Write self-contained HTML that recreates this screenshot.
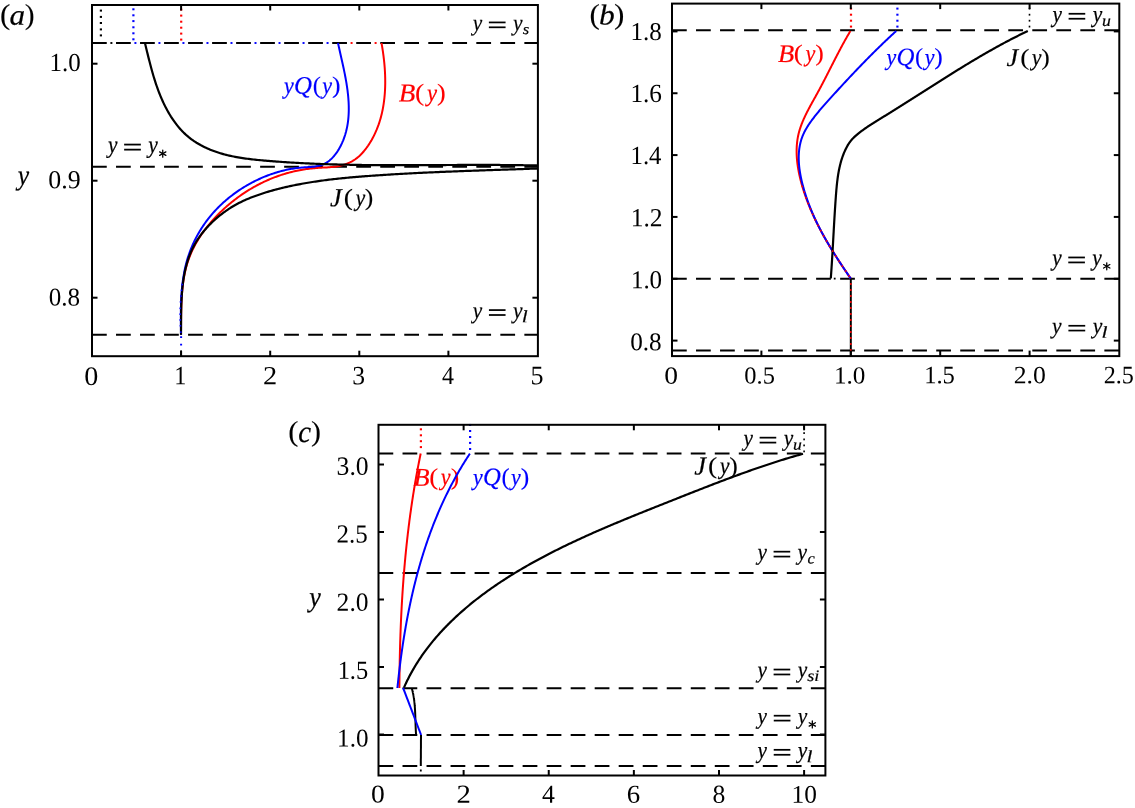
<!DOCTYPE html>
<html><head><meta charset="utf-8"><title>Figure</title><style>
html,body{margin:0;padding:0;background:#fff;overflow:hidden;}
svg{display:block;}
</style></head><body>
<svg width="1135" height="808" viewBox="0 0 1135 808">
<g style="will-change:transform">
<g id="L0" transform="matrix(0.98918,0,0,1.00375,0.989,-1.362)"><text transform="translate(84.198,384.800) rotate(0.05) scale(1.0600,1)" font-family="Liberation Serif" font-size="26.80" fill="#000">0</text></g>
<g id="L1" transform="matrix(0.85175,0,0,0.98390,27.048,5.715)"><text transform="translate(172.872,384.800) rotate(0.05) scale(1.0600,1)" font-family="Liberation Serif" font-size="26.80" fill="#000">1</text></g>
<g id="L2" transform="matrix(0.99825,0,0,0.97757,0.809,7.958)"><text transform="translate(262.540,384.800) rotate(0.05) scale(1.0600,1)" font-family="Liberation Serif" font-size="26.80" fill="#000">2</text></g>
<g id="L3" transform="matrix(0.90170,0,0,0.98201,35.535,6.481)"><text transform="translate(351.356,384.800) rotate(0.05) scale(1.0600,1)" font-family="Liberation Serif" font-size="26.80" fill="#000">3</text></g>
<g id="L4" transform="matrix(0.84304,0,0,0.97104,70.622,10.258)"><text transform="translate(440.527,384.800) rotate(0.05) scale(1.0600,1)" font-family="Liberation Serif" font-size="26.80" fill="#000">4</text></g>
<g id="L5" transform="matrix(0.91670,0,0,0.99180,45.160,2.711)"><text transform="translate(529.414,384.800) rotate(0.05) scale(1.0600,1)" font-family="Liberation Serif" font-size="26.80" fill="#000">5</text></g>
<g id="L6" transform="matrix(0.98492,0,0,0.98166,1.011,0.494)"><text transform="translate(49.178,71.800) rotate(0.05) scale(0.9550,1)" font-family="Liberation Serif" font-size="26.50" fill="#000">1.0</text></g>
<g id="L7" transform="matrix(1.02242,0,0,0.97902,-1.988,3.494)"><text transform="translate(49.178,188.800) rotate(0.05) scale(0.9550,1)" font-family="Liberation Serif" font-size="26.50" fill="#000">0.9</text></g>
<g id="L8" transform="matrix(0.99199,0,0,0.96787,-0.080,9.566)"><text transform="translate(49.178,305.800) rotate(0.05) scale(0.9550,1)" font-family="Liberation Serif" font-size="26.50" fill="#000">0.8</text></g>
<g id="L9" transform="matrix(0.98679,0,0,0.99802,0.314,0.062)"><text transform="translate(-0.312,23.880) rotate(0.05) scale(1.0944,1)" font-family="Liberation Serif" font-size="28.67" fill="#000000" stroke="#000000" stroke-width="0.1">(</text><text transform="translate(9.251,24.808) rotate(0.05) scale(1.0844,1)" font-family="Liberation Serif" font-size="29.17" fill="#000000" stroke="#000000" stroke-width="0.2" font-style="italic">a</text><text transform="translate(24.700,23.880) rotate(0.05) scale(1.0465,1)" font-family="Liberation Serif" font-size="28.67" fill="#000000" stroke="#000000" stroke-width="0.1">)</text></g>
<g id="L10" transform="matrix(0.97663,0,0,0.97172,0.560,5.228)"><text transform="translate(17.529,184.475) rotate(0.05) scale(0.9058,1)" font-family="Liberation Serif" font-size="28.96" fill="#000000" stroke="#000000" stroke-width="0.2"><tspan font-style="italic">y</tspan></text></g>
<g id="L11" transform="matrix(0.99678,0,0,0.98515,0.998,1.075)"><text transform="translate(283.876,93.701) rotate(0.05) scale(0.9130,1)" font-family="Liberation Serif" font-size="24.18" fill="#0000ff" stroke="#0000ff" stroke-width="0.2" font-style="italic">y</text><text transform="translate(294.029,93.741) rotate(0.05) scale(0.9825,1)" font-family="Liberation Serif" font-size="25.37" fill="#0000ff" stroke="#0000ff" stroke-width="0.2" font-style="italic">Q</text><text transform="translate(312.688,93.413) rotate(0.05) scale(1.0200,1)" font-family="Liberation Serif" font-size="24.22" fill="#0000ff" stroke="#0000ff" stroke-width="0.1">(</text><text transform="translate(322.276,93.701) rotate(0.05) scale(0.9130,1)" font-family="Liberation Serif" font-size="24.18" fill="#0000ff" stroke="#0000ff" stroke-width="0.2" font-style="italic">y</text><text transform="translate(332.027,93.413) rotate(0.05) scale(1.0639,1)" font-family="Liberation Serif" font-size="24.22" fill="#0000ff" stroke="#0000ff" stroke-width="0.1">)</text></g>
<g id="L12" transform="matrix(0.99801,0,0,0.98985,0.611,0.798)"><text transform="translate(399.029,101.800) rotate(0.05) scale(1.0308,1)" font-family="Liberation Serif" font-size="26.26" fill="#ff0000" stroke="#ff0000" stroke-width="0.2" font-style="italic">B</text><text transform="translate(415.247,100.690) rotate(0.05) scale(1.1442,1)" font-family="Liberation Serif" font-size="24.33" fill="#ff0000" stroke="#ff0000" stroke-width="0.1">(</text><text transform="translate(427.125,101.141) rotate(0.05) scale(0.9084,1)" font-family="Liberation Serif" font-size="24.93" fill="#ff0000" stroke="#ff0000" stroke-width="0.2" font-style="italic">y</text><text transform="translate(437.315,100.690) rotate(0.05) scale(1.0748,1)" font-family="Liberation Serif" font-size="24.33" fill="#ff0000" stroke="#ff0000" stroke-width="0.1">)</text></g>
<g id="L13" transform="matrix(0.99306,0,0,0.98555,2.476,2.787)"><text transform="translate(329.803,206.535) rotate(0.05) scale(0.9976,1)" font-family="Liberation Serif" font-size="26.52" fill="#000000" stroke="#000000" stroke-width="0.2" font-style="italic">J</text><text transform="translate(343.747,205.460) rotate(0.05) scale(1.1601,1)" font-family="Liberation Serif" font-size="24.00" fill="#000000" stroke="#000000" stroke-width="0.1">(</text><text transform="translate(355.476,205.841) rotate(0.05) scale(0.8857,1)" font-family="Liberation Serif" font-size="24.93" fill="#000000" stroke="#000000" stroke-width="0.2" font-style="italic">y</text><text transform="translate(364.927,205.460) rotate(0.05) scale(1.0737,1)" font-family="Liberation Serif" font-size="24.00" fill="#000000" stroke="#000000" stroke-width="0.1">)</text></g>
<g id="L14" transform="matrix(1.00008,0,0,0.95664,0.028,1.286)"><text transform="translate(472.612,30.437) rotate(0.05) scale(0.8710,1)" font-family="Liberation Serif" font-size="24.48" fill="#000" stroke="#000" stroke-width="0.2" font-style="italic">y</text>
<rect x="488.80" y="21.20" width="16.7" height="1.80" fill="#000"/>
<rect x="488.80" y="26.30" width="16.7" height="1.80" fill="#000"/>
<text transform="translate(512.928,30.437) rotate(0.05) scale(0.8787,1)" font-family="Liberation Serif" font-size="24.48" fill="#000" stroke="#000" stroke-width="0.2" font-style="italic">y</text>
<text transform="translate(522.652,34.246) rotate(0.05) scale(1.0717,1)" font-family="Liberation Serif" font-size="15.42" fill="#000" stroke="#000" stroke-width="0.2" font-style="italic">s</text></g>
<g id="L15" transform="matrix(1.00016,0,0,0.99358,0.117,1.398)"><text transform="translate(107.812,152.437) rotate(0.05) scale(0.8710,1)" font-family="Liberation Serif" font-size="24.48" fill="#000" stroke="#000" stroke-width="0.2" font-style="italic">y</text>
<rect x="124.00" y="143.20" width="16.7" height="1.80" fill="#000"/>
<rect x="124.00" y="148.30" width="16.7" height="1.80" fill="#000"/>
<text transform="translate(148.128,152.437) rotate(0.05) scale(0.8787,1)" font-family="Liberation Serif" font-size="24.48" fill="#000" stroke="#000" stroke-width="0.2" font-style="italic">y</text>
<line x1="162.60" y1="149.60" x2="162.60" y2="156.80" stroke="#000" stroke-width="1.3" stroke-linecap="round"/><line x1="165.72" y1="151.40" x2="159.48" y2="155.00" stroke="#000" stroke-width="1.3" stroke-linecap="round"/><line x1="165.72" y1="155.00" x2="159.48" y2="151.40" stroke="#000" stroke-width="1.3" stroke-linecap="round"/></g>
<g id="L16" transform="matrix(0.99561,0,0,0.96505,2.179,11.110)"><text transform="translate(472.712,318.137) rotate(0.05) scale(0.8710,1)" font-family="Liberation Serif" font-size="24.48" fill="#000" stroke="#000" stroke-width="0.2" font-style="italic">y</text>
<rect x="488.90" y="308.90" width="16.7" height="1.80" fill="#000"/>
<rect x="488.90" y="314.00" width="16.7" height="1.80" fill="#000"/>
<text transform="translate(513.028,318.137) rotate(0.05) scale(0.8787,1)" font-family="Liberation Serif" font-size="24.48" fill="#000" stroke="#000" stroke-width="0.2" font-style="italic">y</text>
<text transform="translate(521.817,322.500) rotate(0.05) scale(1.2061,1)" font-family="Liberation Serif" font-size="17.83" fill="#000" stroke="#000" stroke-width="0.2" font-style="italic">l</text></g>
<g id="L17" transform="matrix(0.96820,0,0,0.92706,21.356,27.851)"><text transform="translate(663.898,383.800) rotate(0.05) scale(1.0600,1)" font-family="Liberation Serif" font-size="26.80" fill="#000">0</text></g>
<g id="L18" transform="matrix(0.96462,0,0,0.92567,26.122,28.268)"><text transform="translate(744.583,383.800) rotate(0.05) scale(0.9550,1)" font-family="Liberation Serif" font-size="26.50" fill="#000">0.5</text></g>
<g id="L19" transform="matrix(0.99417,0,0,0.93019,5.514,26.588)"><text transform="translate(833.350,383.800) rotate(0.05) scale(0.9550,1)" font-family="Liberation Serif" font-size="26.50" fill="#000">1.0</text></g>
<g id="L20" transform="matrix(0.97274,0,0,0.95036,26.557,18.519)"><text transform="translate(922.750,383.800) rotate(0.05) scale(0.9550,1)" font-family="Liberation Serif" font-size="26.50" fill="#000">1.5</text></g>
<g id="L21" transform="matrix(1.01462,0,0,0.93978,-13.785,22.580)"><text transform="translate(1012.720,383.800) rotate(0.05) scale(0.9550,1)" font-family="Liberation Serif" font-size="26.50" fill="#000">2.0</text></g>
<g id="L22" transform="matrix(0.95291,0,0,0.94646,53.554,20.051)"><text transform="translate(1102.120,383.800) rotate(0.05) scale(0.9550,1)" font-family="Liberation Serif" font-size="26.50" fill="#000">2.5</text></g>
<g id="L23" transform="matrix(0.99617,0,0,0.96738,2.206,12.194)"><text transform="translate(630.378,349.500) rotate(0.05) scale(0.9550,1)" font-family="Liberation Serif" font-size="26.50" fill="#000">0.8</text></g>
<g id="L24" transform="matrix(0.98731,0,0,0.97537,8.512,7.780)"><text transform="translate(630.378,287.660) rotate(0.05) scale(0.9550,1)" font-family="Liberation Serif" font-size="26.50" fill="#000">1.0</text></g>
<g id="L25" transform="matrix(1.00748,0,0,0.98804,-4.822,3.045)"><text transform="translate(630.758,225.820) rotate(0.05) scale(0.9550,1)" font-family="Liberation Serif" font-size="26.50" fill="#000">1.2</text></g>
<g id="L26" transform="matrix(0.97982,0,0,0.98950,13.460,1.709)"><text transform="translate(629.745,163.980) rotate(0.05) scale(0.9550,1)" font-family="Liberation Serif" font-size="26.50" fill="#000">1.4</text></g>
<g id="L27" transform="matrix(0.99681,0,0,0.99065,2.329,0.762)"><text transform="translate(630.125,102.140) rotate(0.05) scale(0.9550,1)" font-family="Liberation Serif" font-size="26.50" fill="#000">1.6</text></g>
<g id="L28" transform="matrix(0.98997,0,0,0.97246,6.345,0.800)"><text transform="translate(630.378,40.300) rotate(0.05) scale(0.9550,1)" font-family="Liberation Serif" font-size="26.50" fill="#000">1.8</text></g>
<g id="L29" transform="matrix(0.98858,0,0,0.99326,6.966,0.116)"><text transform="translate(589.388,23.857) rotate(0.05) scale(1.0902,1)" font-family="Liberation Serif" font-size="28.78" fill="#000000" stroke="#000000" stroke-width="0.1">(</text><text transform="translate(598.826,24.510) rotate(0.05) scale(1.0986,1)" font-family="Liberation Serif" font-size="29.00" fill="#000000" stroke="#000000" stroke-width="0.2" font-style="italic">b</text><text transform="translate(613.954,23.857) rotate(0.05) scale(1.0959,1)" font-family="Liberation Serif" font-size="28.78" fill="#000000" stroke="#000000" stroke-width="0.1">)</text></g>
<g id="L30" transform="matrix(0.99176,0,0,0.98196,6.555,0.847)"><text transform="translate(777.733,62.183) rotate(0.05) scale(1.0356,1)" font-family="Liberation Serif" font-size="25.79" fill="#ff0000" stroke="#ff0000" stroke-width="0.2" font-style="italic">B</text><text transform="translate(793.737,61.093) rotate(0.05) scale(1.1495,1)" font-family="Liberation Serif" font-size="23.90" fill="#ff0000" stroke="#ff0000" stroke-width="0.1">(</text><text transform="translate(805.458,61.536) rotate(0.05) scale(0.9126,1)" font-family="Liberation Serif" font-size="24.48" fill="#ff0000" stroke="#ff0000" stroke-width="0.2" font-style="italic">y</text><text transform="translate(815.515,61.093) rotate(0.05) scale(1.0798,1)" font-family="Liberation Serif" font-size="23.90" fill="#ff0000" stroke="#ff0000" stroke-width="0.1">)</text></g>
<g id="L31" transform="matrix(0.99379,0,0,0.98264,5.614,0.910)"><text transform="translate(886.376,65.101) rotate(0.05) scale(0.9130,1)" font-family="Liberation Serif" font-size="24.18" fill="#0000ff" stroke="#0000ff" stroke-width="0.2" font-style="italic">y</text><text transform="translate(896.529,65.141) rotate(0.05) scale(0.9825,1)" font-family="Liberation Serif" font-size="25.37" fill="#0000ff" stroke="#0000ff" stroke-width="0.2" font-style="italic">Q</text><text transform="translate(915.188,64.813) rotate(0.05) scale(1.0200,1)" font-family="Liberation Serif" font-size="24.22" fill="#0000ff" stroke="#0000ff" stroke-width="0.1">(</text><text transform="translate(924.776,65.101) rotate(0.05) scale(0.9130,1)" font-family="Liberation Serif" font-size="24.18" fill="#0000ff" stroke="#0000ff" stroke-width="0.2" font-style="italic">y</text><text transform="translate(934.527,64.813) rotate(0.05) scale(1.0639,1)" font-family="Liberation Serif" font-size="24.22" fill="#0000ff" stroke="#0000ff" stroke-width="0.1">)</text></g>
<g id="L32" transform="matrix(0.99364,0,0,0.98400,6.530,0.797)"><text transform="translate(1006.305,66.219) rotate(0.05) scale(1.0110,1)" font-family="Liberation Serif" font-size="26.04" fill="#000000" stroke="#000000" stroke-width="0.2" font-style="italic">J</text><text transform="translate(1020.183,65.163) rotate(0.05) scale(1.1757,1)" font-family="Liberation Serif" font-size="23.57" fill="#000000" stroke="#000000" stroke-width="0.1">(</text><text transform="translate(1031.857,65.537) rotate(0.05) scale(0.8976,1)" font-family="Liberation Serif" font-size="24.48" fill="#000000" stroke="#000000" stroke-width="0.2" font-style="italic">y</text><text transform="translate(1041.262,65.163) rotate(0.05) scale(1.0881,1)" font-family="Liberation Serif" font-size="23.57" fill="#000000" stroke="#000000" stroke-width="0.1">)</text></g>
<g id="L33" transform="matrix(0.99593,0,0,0.97315,4.358,0.732)"><text transform="translate(1052.412,21.737) rotate(0.05) scale(0.8710,1)" font-family="Liberation Serif" font-size="24.48" fill="#000" stroke="#000" stroke-width="0.2" font-style="italic">y</text>
<rect x="1068.60" y="12.50" width="16.7" height="1.80" fill="#000"/>
<rect x="1068.60" y="17.60" width="16.7" height="1.80" fill="#000"/>
<text transform="translate(1092.728,21.737) rotate(0.05) scale(0.8787,1)" font-family="Liberation Serif" font-size="24.48" fill="#000" stroke="#000" stroke-width="0.2" font-style="italic">y</text>
<text transform="translate(1102.208,25.934) rotate(0.05) scale(1.0745,1)" font-family="Liberation Serif" font-size="16.60" fill="#000" stroke="#000" stroke-width="0.2" font-style="italic">u</text></g>
<g id="L34" transform="matrix(0.99686,0,0,0.97310,3.422,7.185)"><text transform="translate(1052.012,265.537) rotate(0.05) scale(0.8710,1)" font-family="Liberation Serif" font-size="24.48" fill="#000" stroke="#000" stroke-width="0.2" font-style="italic">y</text>
<rect x="1068.20" y="256.30" width="16.7" height="1.80" fill="#000"/>
<rect x="1068.20" y="261.40" width="16.7" height="1.80" fill="#000"/>
<text transform="translate(1092.328,265.537) rotate(0.05) scale(0.8787,1)" font-family="Liberation Serif" font-size="24.48" fill="#000" stroke="#000" stroke-width="0.2" font-style="italic">y</text>
<line x1="1106.80" y1="262.70" x2="1106.80" y2="269.90" stroke="#000" stroke-width="1.3" stroke-linecap="round"/><line x1="1109.92" y1="264.50" x2="1103.68" y2="268.10" stroke="#000" stroke-width="1.3" stroke-linecap="round"/><line x1="1109.92" y1="268.10" x2="1103.68" y2="264.50" stroke="#000" stroke-width="1.3" stroke-linecap="round"/></g>
<g id="L35" transform="matrix(1.00684,0,0,0.94169,-7.102,19.241)"><text transform="translate(1052.012,333.837) rotate(0.05) scale(0.8710,1)" font-family="Liberation Serif" font-size="24.48" fill="#000" stroke="#000" stroke-width="0.2" font-style="italic">y</text>
<rect x="1068.20" y="324.60" width="16.7" height="1.80" fill="#000"/>
<rect x="1068.20" y="329.70" width="16.7" height="1.80" fill="#000"/>
<text transform="translate(1092.328,333.837) rotate(0.05) scale(0.8787,1)" font-family="Liberation Serif" font-size="24.48" fill="#000" stroke="#000" stroke-width="0.2" font-style="italic">y</text>
<text transform="translate(1101.117,338.200) rotate(0.05) scale(1.2061,1)" font-family="Liberation Serif" font-size="17.83" fill="#000" stroke="#000" stroke-width="0.2" font-style="italic">l</text></g>
<g id="L36" transform="matrix(0.96961,0,0,0.96135,10.983,30.836)"><text transform="translate(371.398,802.600) rotate(0.05) scale(1.0600,1)" font-family="Liberation Serif" font-size="26.80" fill="#000">0</text></g>
<g id="L37" transform="matrix(1.01203,0,0,0.97341,-5.695,21.379)"><text transform="translate(456.660,802.600) rotate(0.05) scale(1.0600,1)" font-family="Liberation Serif" font-size="26.80" fill="#000">2</text></g>
<g id="L38" transform="matrix(0.90672,0,0,0.97093,50.863,23.374)"><text transform="translate(541.567,802.600) rotate(0.05) scale(1.0600,1)" font-family="Liberation Serif" font-size="26.80" fill="#000">4</text></g>
<g id="L39" transform="matrix(0.94521,0,0,0.96537,34.422,28.016)"><text transform="translate(626.545,802.600) rotate(0.05) scale(1.0600,1)" font-family="Liberation Serif" font-size="26.80" fill="#000">6</text></g>
<g id="L40" transform="matrix(0.90373,0,0,0.96366,69.131,29.297)"><text transform="translate(711.878,802.600) rotate(0.05) scale(1.0600,1)" font-family="Liberation Serif" font-size="26.80" fill="#000">8</text></g>
<g id="L41" transform="matrix(0.94499,0,0,0.95367,45.017,37.344)"><text transform="translate(790.030,802.600) rotate(0.05) scale(1.0000,1)" font-family="Liberation Serif" font-size="26.80" fill="#000">10</text></g>
<g id="L42" transform="matrix(0.99171,0,0,0.96652,2.926,25.215)"><text transform="translate(336.978,746.200) rotate(0.05) scale(0.9550,1)" font-family="Liberation Serif" font-size="26.50" fill="#000">1.0</text></g>
<g id="L43" transform="matrix(0.96546,0,0,0.97908,12.319,14.620)"><text transform="translate(336.978,678.400) rotate(0.05) scale(0.9550,1)" font-family="Liberation Serif" font-size="26.50" fill="#000">1.5</text></g>
<g id="L44" transform="matrix(1.00838,0,0,0.98892,-3.178,6.808)"><text transform="translate(336.978,610.600) rotate(0.05) scale(0.9550,1)" font-family="Liberation Serif" font-size="26.50" fill="#000">2.0</text></g>
<g id="L45" transform="matrix(0.98739,0,0,0.98393,3.880,8.341)"><text transform="translate(336.978,542.800) rotate(0.05) scale(0.9550,1)" font-family="Liberation Serif" font-size="26.50" fill="#000">2.5</text></g>
<g id="L46" transform="matrix(1.01393,0,0,0.99458,-5.064,2.316)"><text transform="translate(336.978,475.000) rotate(0.05) scale(0.9550,1)" font-family="Liberation Serif" font-size="26.50" fill="#000">3.0</text></g>
<g id="L47" transform="matrix(0.98411,0,0,0.99266,4.823,3.131)"><text transform="translate(288.106,440.957) rotate(0.05) scale(1.0765,1)" font-family="Liberation Serif" font-size="28.78" fill="#000000" stroke="#000000" stroke-width="0.1">(</text><text transform="translate(298.119,442.192) rotate(0.05) scale(0.9530,1)" font-family="Liberation Serif" font-size="30.83" fill="#000000" stroke="#000000" stroke-width="0.2" font-style="italic">c</text><text transform="translate(311.088,440.957) rotate(0.05) scale(1.0558,1)" font-family="Liberation Serif" font-size="28.78" fill="#000000" stroke="#000000" stroke-width="0.1">)</text></g>
<g id="L48" transform="matrix(0.98116,0,0,0.95688,5.886,25.980)"><text transform="translate(309.161,606.514) rotate(0.05) scale(0.8957,1)" font-family="Liberation Serif" font-size="29.70" fill="#000000" stroke="#000000" stroke-width="0.2"><tspan font-style="italic">y</tspan></text></g>
<g id="L49" transform="matrix(0.99115,0,0,0.98991,3.884,4.674)"><text transform="translate(413.335,485.962) rotate(0.05) scale(1.0241,1)" font-family="Liberation Serif" font-size="25.91" fill="#ff0000" stroke="#ff0000" stroke-width="0.2" font-style="italic">B</text><text transform="translate(429.232,484.867) rotate(0.05) scale(1.1367,1)" font-family="Liberation Serif" font-size="24.01" fill="#ff0000" stroke="#ff0000" stroke-width="0.1">(</text><text transform="translate(440.875,485.312) rotate(0.05) scale(0.9024,1)" font-family="Liberation Serif" font-size="24.59" fill="#ff0000" stroke="#ff0000" stroke-width="0.2" font-style="italic">y</text><text transform="translate(450.865,484.867) rotate(0.05) scale(1.0678,1)" font-family="Liberation Serif" font-size="24.01" fill="#ff0000" stroke="#ff0000" stroke-width="0.1">)</text></g>
<g id="L50" transform="matrix(0.99629,0,0,0.97953,1.901,9.688)"><text transform="translate(472.767,485.155) rotate(0.05) scale(0.9001,1)" font-family="Liberation Serif" font-size="24.40" fill="#0000ff" stroke="#0000ff" stroke-width="0.2" font-style="italic">y</text><text transform="translate(482.866,485.195) rotate(0.05) scale(0.9687,1)" font-family="Liberation Serif" font-size="25.59" fill="#0000ff" stroke="#0000ff" stroke-width="0.2" font-style="italic">Q</text><text transform="translate(501.428,484.864) rotate(0.05) scale(1.0056,1)" font-family="Liberation Serif" font-size="24.44" fill="#0000ff" stroke="#0000ff" stroke-width="0.1">(</text><text transform="translate(510.966,485.155) rotate(0.05) scale(0.9001,1)" font-family="Liberation Serif" font-size="24.40" fill="#0000ff" stroke="#0000ff" stroke-width="0.2" font-style="italic">y</text><text transform="translate(520.666,484.864) rotate(0.05) scale(1.0489,1)" font-family="Liberation Serif" font-size="24.44" fill="#0000ff" stroke="#0000ff" stroke-width="0.1">)</text></g>
<g id="L51" transform="matrix(0.99340,0,0,0.98802,4.709,5.559)"><text transform="translate(694.102,474.656) rotate(0.05) scale(1.0045,1)" font-family="Liberation Serif" font-size="26.40" fill="#000000" stroke="#000000" stroke-width="0.2" font-style="italic">J</text><text transform="translate(708.079,473.586) rotate(0.05) scale(1.1681,1)" font-family="Liberation Serif" font-size="23.89" fill="#000000" stroke="#000000" stroke-width="0.1">(</text><text transform="translate(719.836,473.965) rotate(0.05) scale(0.8918,1)" font-family="Liberation Serif" font-size="24.81" fill="#000000" stroke="#000000" stroke-width="0.2" font-style="italic">y</text><text transform="translate(729.309,473.586) rotate(0.05) scale(1.0811,1)" font-family="Liberation Serif" font-size="23.89" fill="#000000" stroke="#000000" stroke-width="0.1">)</text></g>
<g id="L52" transform="matrix(0.99559,0,0,0.96684,3.276,14.863)"><text transform="translate(743.512,445.637) rotate(0.05) scale(0.8710,1)" font-family="Liberation Serif" font-size="24.48" fill="#000" stroke="#000" stroke-width="0.2" font-style="italic">y</text>
<rect x="759.70" y="436.40" width="16.7" height="1.80" fill="#000"/>
<rect x="759.70" y="441.50" width="16.7" height="1.80" fill="#000"/>
<text transform="translate(783.828,445.637) rotate(0.05) scale(0.8787,1)" font-family="Liberation Serif" font-size="24.48" fill="#000" stroke="#000" stroke-width="0.2" font-style="italic">y</text>
<text transform="translate(793.308,449.834) rotate(0.05) scale(1.0745,1)" font-family="Liberation Serif" font-size="16.60" fill="#000" stroke="#000" stroke-width="0.2" font-style="italic">u</text></g>
<g id="L53" transform="matrix(0.99585,0,0,0.96143,3.196,21.441)"><text transform="translate(757.412,559.837) rotate(0.05) scale(0.8710,1)" font-family="Liberation Serif" font-size="24.48" fill="#000" stroke="#000" stroke-width="0.2" font-style="italic">y</text>
<rect x="773.60" y="550.60" width="16.7" height="1.80" fill="#000"/>
<rect x="773.60" y="555.70" width="16.7" height="1.80" fill="#000"/>
<text transform="translate(797.728,559.837) rotate(0.05) scale(0.8787,1)" font-family="Liberation Serif" font-size="24.48" fill="#000" stroke="#000" stroke-width="0.2" font-style="italic">y</text>
<text transform="translate(807.604,563.837) rotate(0.05) scale(1.0180,1)" font-family="Liberation Serif" font-size="16.25" fill="#000" stroke="#000" stroke-width="0.2" font-style="italic">c</text></g>
<g id="L54" transform="matrix(0.99578,0,0,0.96703,3.276,22.213)"><text transform="translate(757.412,677.737) rotate(0.05) scale(0.8710,1)" font-family="Liberation Serif" font-size="24.48" fill="#000" stroke="#000" stroke-width="0.2" font-style="italic">y</text>
<rect x="773.60" y="668.50" width="16.7" height="1.80" fill="#000"/>
<rect x="773.60" y="673.60" width="16.7" height="1.80" fill="#000"/>
<text transform="translate(797.728,677.737) rotate(0.05) scale(0.8787,1)" font-family="Liberation Serif" font-size="24.48" fill="#000" stroke="#000" stroke-width="0.2" font-style="italic">y</text>
<text transform="translate(807.427,681.334) rotate(0.05) scale(1.1001,1)" font-family="Liberation Serif" font-size="16.57" fill="#000" stroke="#000" stroke-width="0.2" font-style="italic">si</text></g>
<g id="L55" transform="matrix(0.99907,0,0,0.95911,0.678,29.557)"><text transform="translate(757.612,723.737) rotate(0.05) scale(0.8710,1)" font-family="Liberation Serif" font-size="24.48" fill="#000" stroke="#000" stroke-width="0.2" font-style="italic">y</text>
<rect x="773.80" y="714.50" width="16.7" height="1.80" fill="#000"/>
<rect x="773.80" y="719.60" width="16.7" height="1.80" fill="#000"/>
<text transform="translate(797.928,723.737) rotate(0.05) scale(0.8787,1)" font-family="Liberation Serif" font-size="24.48" fill="#000" stroke="#000" stroke-width="0.2" font-style="italic">y</text>
<line x1="812.40" y1="720.90" x2="812.40" y2="728.10" stroke="#000" stroke-width="1.3" stroke-linecap="round"/><line x1="815.52" y1="722.70" x2="809.28" y2="726.30" stroke="#000" stroke-width="1.3" stroke-linecap="round"/><line x1="815.52" y1="726.30" x2="809.28" y2="722.70" stroke="#000" stroke-width="1.3" stroke-linecap="round"/></g>
<g id="L56" transform="matrix(0.99668,0,0,0.97186,2.493,21.315)"><text transform="translate(757.612,757.937) rotate(0.05) scale(0.8710,1)" font-family="Liberation Serif" font-size="24.48" fill="#000" stroke="#000" stroke-width="0.2" font-style="italic">y</text>
<rect x="773.80" y="748.70" width="16.7" height="1.80" fill="#000"/>
<rect x="773.80" y="753.80" width="16.7" height="1.80" fill="#000"/>
<text transform="translate(797.928,757.937) rotate(0.05) scale(0.8787,1)" font-family="Liberation Serif" font-size="24.48" fill="#000" stroke="#000" stroke-width="0.2" font-style="italic">y</text>
<text transform="translate(806.717,762.300) rotate(0.05) scale(1.2061,1)" font-family="Liberation Serif" font-size="17.83" fill="#000" stroke="#000" stroke-width="0.2" font-style="italic">l</text></g>
<line x1="92.0" y1="43.00" x2="537.9" y2="43.00" stroke="#000" stroke-width="2.0" stroke-dasharray="14.75 9.27"/>
<line x1="92.0" y1="166.80" x2="537.9" y2="166.80" stroke="#000" stroke-width="2.0" stroke-dasharray="14.75 9.27"/>
<line x1="92.0" y1="334.70" x2="537.9" y2="334.70" stroke="#000" stroke-width="2.0" stroke-dasharray="14.75 9.27"/>
<rect x="110.39" y="42.05" width="2.0" height="1.9" fill="#000000"/>
<rect x="134.41" y="42.05" width="2.0" height="1.9" fill="#0000ff"/>
<rect x="158.43" y="42.05" width="2.0" height="1.9" fill="#0000ff"/>
<rect x="182.44" y="42.05" width="2.0" height="1.9" fill="#0000ff"/>
<rect x="206.47" y="42.05" width="2.0" height="1.9" fill="#0000ff"/>
<rect x="230.49" y="42.05" width="2.0" height="1.9" fill="#0000ff"/>
<rect x="254.50" y="42.05" width="2.0" height="1.9" fill="#0000ff"/>
<rect x="278.52" y="42.05" width="2.0" height="1.9" fill="#0000ff"/>
<rect x="302.55" y="42.05" width="2.0" height="1.9" fill="#0000ff"/>
<rect x="326.56" y="42.05" width="2.0" height="1.9" fill="#0000ff"/>
<rect x="350.58" y="42.05" width="2.0" height="1.9" fill="#ff0000"/>
<rect x="374.60" y="42.05" width="2.0" height="1.9" fill="#ff0000"/>
<path d="M181.00,334.70 L181.01,333.39 L181.02,332.07 L181.03,330.75 L181.04,329.42 L181.05,328.09 L181.06,326.75 L181.06,325.41 L181.07,324.06 L181.08,322.71 L181.08,321.36 L181.09,320.00 L181.10,318.64 L181.12,317.27 L181.13,315.91 L181.15,314.54 L181.17,313.17 L181.19,311.79 L181.22,310.42 L181.25,309.04 L181.29,307.66 L181.33,306.28 L181.38,304.90 L181.43,303.52 L181.49,302.13 L181.55,300.75 L181.62,299.37 L181.70,297.99 L181.78,296.61 L181.88,295.22 L181.98,293.84 L182.09,292.47 L182.21,291.09 L182.34,289.71 L182.48,288.34 L182.62,286.97 L182.78,285.60 L182.95,284.23 L183.13,282.87 L183.32,281.51 L183.53,280.15 L183.74,278.80 L183.97,277.45 L184.21,276.10 L184.47,274.76 L184.74,273.42 L185.02,272.09 L185.32,270.76 L185.63,269.44 L185.96,268.12 L186.30,266.81 L186.66,265.50 L187.04,264.21 L187.43,262.91 L187.84,261.63 L188.26,260.35 L188.71,259.08 L189.17,257.81 L189.65,256.55 L190.15,255.30 L190.66,254.06 L191.19,252.83 L191.74,251.60 L192.31,250.38 L192.89,249.16 L193.48,247.96 L194.09,246.76 L194.72,245.57 L195.36,244.38 L196.02,243.20 L196.69,242.03 L197.37,240.87 L198.07,239.72 L198.78,238.57 L199.51,237.43 L200.25,236.30 L201.00,235.17 L201.77,234.05 L202.54,232.94 L203.33,231.84 L204.13,230.74 L204.94,229.65 L205.77,228.57 L206.60,227.50 L207.45,226.43 L208.30,225.38 L209.17,224.33 L210.05,223.28 L210.93,222.25 L211.83,221.22 L212.73,220.20 L213.65,219.18 L214.57,218.18 L215.50,217.18 L216.44,216.19 L217.39,215.20 L218.34,214.23 L219.31,213.26 L220.28,212.30 L221.26,211.35 L222.25,210.41 L223.25,209.48 L224.25,208.55 L225.27,207.63 L226.29,206.72 L227.32,205.82 L228.35,204.93 L229.40,204.05 L230.45,203.17 L231.50,202.30 L232.57,201.45 L233.64,200.60 L234.72,199.76 L235.81,198.93 L236.90,198.11 L238.00,197.30 L239.11,196.50 L240.22,195.70 L241.34,194.92 L242.46,194.15 L243.60,193.38 L244.74,192.63 L245.88,191.89 L247.03,191.15 L248.19,190.43 L249.35,189.71 L250.52,189.01 L251.69,188.31 L252.87,187.63 L254.06,186.96 L255.25,186.29 L256.44,185.64 L257.64,185.00 L258.85,184.37 L260.06,183.75 L261.28,183.14 L262.50,182.54 L263.73,181.95 L264.96,181.37 L266.19,180.81 L267.43,180.25 L268.68,179.71 L269.93,179.18 L271.18,178.66 L272.44,178.15 L273.70,177.65 L274.97,177.16 L276.24,176.69 L277.51,176.23 L278.79,175.78 L280.07,175.34 L281.35,174.91 L282.64,174.49 L283.94,174.09 L285.23,173.70 L286.53,173.32 L287.83,172.96 L289.14,172.60 L290.44,172.26 L291.75,171.93 L293.07,171.62 L294.39,171.31 L295.71,171.02 L297.03,170.74 L298.36,170.47 L299.69,170.21 L301.02,169.97 L302.36,169.74 L303.70,169.51 L305.04,169.30 L306.39,169.11 L307.74,168.92 L309.09,168.74 L310.45,168.58 L311.81,168.43 L313.17,168.29 L314.53,168.16 L315.90,168.04 L317.28,167.93 L318.65,167.84 L320.03,167.75 L321.41,167.67 L322.79,167.60 L324.17,167.53 L325.55,167.45 L326.93,167.38 L328.31,167.29 L329.68,167.20 L331.05,167.09 L332.42,166.96 L333.77,166.82 L335.12,166.66 L336.46,166.47 L337.80,166.25 L339.12,166.00 L340.43,165.72 L341.73,165.40 L343.01,165.05 L344.28,164.65 L345.54,164.23 L346.78,163.76 L348.01,163.26 L349.22,162.72 L350.41,162.14 L351.58,161.53 L352.73,160.88 L353.86,160.19 L354.96,159.46 L356.05,158.69 L357.11,157.88 L358.15,157.03 L359.16,156.15 L360.15,155.23 L361.11,154.28 L362.06,153.29 L362.97,152.28 L363.87,151.24 L364.74,150.18 L365.59,149.10 L366.42,148.00 L367.23,146.88 L368.02,145.75 L368.78,144.61 L369.53,143.45 L370.25,142.29 L370.96,141.12 L371.65,139.94 L372.31,138.75 L372.96,137.55 L373.59,136.35 L374.20,135.13 L374.79,133.91 L375.36,132.68 L375.91,131.44 L376.45,130.20 L376.96,128.95 L377.46,127.69 L377.94,126.42 L378.41,125.15 L378.85,123.87 L379.28,122.59 L379.70,121.29 L380.09,120.00 L380.47,118.69 L380.84,117.39 L381.19,116.07 L381.52,114.76 L381.83,113.43 L382.13,112.11 L382.42,110.77 L382.69,109.44 L382.94,108.10 L383.19,106.75 L383.41,105.41 L383.62,104.06 L383.82,102.70 L384.00,101.34 L384.17,99.98 L384.33,98.62 L384.47,97.26 L384.60,95.89 L384.72,94.52 L384.83,93.15 L384.92,91.78 L385.00,90.41 L385.06,89.03 L385.12,87.65 L385.16,86.28 L385.19,84.90 L385.22,83.52 L385.22,82.14 L385.22,80.77 L385.21,79.39 L385.19,78.01 L385.15,76.64 L385.11,75.26 L385.06,73.88 L384.99,72.51 L384.92,71.14 L384.84,69.77 L384.75,68.40 L384.64,67.03 L384.53,65.67 L384.42,64.31 L384.29,62.95 L384.15,61.59 L384.01,60.24 L383.86,58.89 L383.70,57.54 L383.53,56.20 L383.36,54.86 L383.18,53.52 L382.99,52.19 L382.80,50.86 L382.60,49.54 L382.39,48.22 L382.18,46.91 L381.96,45.60 L381.73,44.30 L381.50,43.00" fill="none" stroke="#ff0000" stroke-width="2.0" stroke-linejoin="round" stroke-linecap="butt"/>
<path d="M181.00,334.70 L180.98,333.44 L180.96,332.17 L180.94,330.90 L180.92,329.63 L180.91,328.36 L180.89,327.08 L180.87,325.80 L180.86,324.52 L180.85,323.24 L180.84,321.96 L180.83,320.67 L180.82,319.39 L180.82,318.10 L180.82,316.81 L180.82,315.52 L180.83,314.23 L180.84,312.94 L180.85,311.65 L180.87,310.35 L180.89,309.06 L180.91,307.77 L180.94,306.47 L180.98,305.18 L181.02,303.88 L181.06,302.59 L181.11,301.29 L181.17,300.00 L181.23,298.70 L181.30,297.41 L181.38,296.12 L181.46,294.82 L181.55,293.53 L181.64,292.24 L181.74,290.95 L181.85,289.66 L181.97,288.37 L182.10,287.09 L182.23,285.80 L182.37,284.52 L182.53,283.24 L182.69,281.96 L182.85,280.68 L183.03,279.40 L183.22,278.13 L183.42,276.86 L183.63,275.59 L183.84,274.32 L184.07,273.06 L184.31,271.80 L184.56,270.54 L184.82,269.28 L185.09,268.03 L185.38,266.78 L185.67,265.53 L185.98,264.29 L186.30,263.05 L186.63,261.81 L186.98,260.58 L187.33,259.35 L187.70,258.13 L188.09,256.91 L188.48,255.69 L188.89,254.48 L189.32,253.27 L189.75,252.06 L190.20,250.87 L190.66,249.67 L191.13,248.48 L191.61,247.30 L192.11,246.12 L192.62,244.94 L193.14,243.77 L193.68,242.61 L194.22,241.45 L194.78,240.30 L195.35,239.15 L195.93,238.01 L196.53,236.88 L197.13,235.75 L197.75,234.62 L198.38,233.51 L199.02,232.40 L199.67,231.29 L200.34,230.20 L201.01,229.11 L201.70,228.02 L202.40,226.95 L203.11,225.88 L203.83,224.82 L204.56,223.76 L205.30,222.71 L206.06,221.68 L206.82,220.64 L207.60,219.62 L208.38,218.60 L209.18,217.60 L209.99,216.60 L210.81,215.60 L211.64,214.62 L212.48,213.65 L213.33,212.68 L214.18,211.72 L215.05,210.77 L215.93,209.83 L216.82,208.90 L217.72,207.97 L218.63,207.06 L219.54,206.15 L220.47,205.25 L221.40,204.36 L222.35,203.48 L223.30,202.61 L224.26,201.75 L225.23,200.90 L226.21,200.05 L227.19,199.22 L228.19,198.39 L229.19,197.58 L230.20,196.77 L231.21,195.97 L232.24,195.18 L233.27,194.41 L234.31,193.64 L235.35,192.88 L236.41,192.13 L237.47,191.39 L238.53,190.66 L239.61,189.94 L240.68,189.23 L241.77,188.53 L242.86,187.84 L243.96,187.16 L245.06,186.49 L246.17,185.83 L247.29,185.18 L248.41,184.54 L249.53,183.91 L250.66,183.29 L251.80,182.68 L252.94,182.08 L254.09,181.49 L255.24,180.92 L256.39,180.35 L257.55,179.80 L258.72,179.25 L259.88,178.72 L261.06,178.20 L262.23,177.68 L263.41,177.18 L264.60,176.69 L265.78,176.21 L266.97,175.75 L268.17,175.29 L269.36,174.85 L270.56,174.41 L271.76,173.99 L272.97,173.58 L274.18,173.18 L275.39,172.79 L276.60,172.42 L277.82,172.05 L279.04,171.70 L280.27,171.36 L281.49,171.03 L282.73,170.72 L283.96,170.42 L285.20,170.13 L286.45,169.85 L287.70,169.58 L288.95,169.33 L290.21,169.09 L291.47,168.87 L292.74,168.66 L294.01,168.46 L295.29,168.27 L296.57,168.10 L297.86,167.94 L299.16,167.80 L300.46,167.66 L301.76,167.55 L303.08,167.45 L304.39,167.35 L305.71,167.27 L307.03,167.19 L308.35,167.11 L309.67,167.02 L310.98,166.93 L312.28,166.81 L313.58,166.68 L314.86,166.52 L316.13,166.33 L317.38,166.11 L318.61,165.85 L319.83,165.54 L321.02,165.19 L322.18,164.78 L323.32,164.32 L324.43,163.80 L325.51,163.22 L326.57,162.60 L327.60,161.92 L328.60,161.19 L329.58,160.42 L330.53,159.61 L331.45,158.75 L332.35,157.86 L333.22,156.93 L334.06,155.97 L334.88,154.98 L335.67,153.96 L336.44,152.91 L337.18,151.84 L337.90,150.74 L338.59,149.63 L339.25,148.50 L339.89,147.35 L340.50,146.19 L341.09,145.03 L341.66,143.85 L342.20,142.67 L342.71,141.48 L343.21,140.29 L343.67,139.09 L344.12,137.88 L344.54,136.68 L344.94,135.46 L345.32,134.24 L345.67,133.02 L346.01,131.79 L346.32,130.56 L346.61,129.33 L346.88,128.09 L347.14,126.84 L347.37,125.59 L347.58,124.34 L347.78,123.09 L347.95,121.83 L348.11,120.57 L348.25,119.30 L348.37,118.04 L348.48,116.77 L348.57,115.49 L348.64,114.22 L348.70,112.94 L348.74,111.66 L348.77,110.38 L348.78,109.09 L348.77,107.81 L348.76,106.52 L348.73,105.23 L348.68,103.94 L348.63,102.65 L348.56,101.35 L348.47,100.06 L348.38,98.76 L348.27,97.47 L348.16,96.17 L348.03,94.88 L347.89,93.58 L347.74,92.28 L347.59,90.98 L347.42,89.69 L347.24,88.39 L347.06,87.09 L346.87,85.80 L346.66,84.50 L346.46,83.20 L346.24,81.91 L346.02,80.62 L345.79,79.33 L345.55,78.04 L345.31,76.75 L345.07,75.46 L344.82,74.17 L344.56,72.89 L344.30,71.61 L344.04,70.33 L343.77,69.05 L343.50,67.78 L343.23,66.50 L342.95,65.23 L342.68,63.97 L342.40,62.70 L342.12,61.44 L341.84,60.19 L341.55,58.93 L341.27,57.68 L340.99,56.44 L340.71,55.19 L340.43,53.95 L340.15,52.72 L339.87,51.49 L339.60,50.26 L339.32,49.04 L339.05,47.82 L338.78,46.61 L338.52,45.40 L338.26,44.20 L338.00,43.00" fill="none" stroke="#0000ff" stroke-width="2.0" stroke-linejoin="round" stroke-linecap="butt"/>
<path d="M181.00,334.70 L181.01,333.22 L181.02,331.74 L181.03,330.26 L181.04,328.76 L181.04,327.26 L181.05,325.76 L181.05,324.25 L181.06,322.73 L181.06,321.22 L181.07,319.69 L181.08,318.16 L181.09,316.63 L181.11,315.10 L181.13,313.56 L181.15,312.02 L181.18,310.48 L181.21,308.93 L181.25,307.39 L181.29,305.84 L181.34,304.29 L181.40,302.74 L181.47,301.19 L181.54,299.64 L181.62,298.09 L181.71,296.54 L181.81,295.00 L181.92,293.45 L182.04,291.90 L182.17,290.36 L182.31,288.82 L182.46,287.28 L182.63,285.74 L182.81,284.21 L183.00,282.68 L183.20,281.15 L183.43,279.63 L183.66,278.11 L183.91,276.60 L184.18,275.09 L184.46,273.58 L184.76,272.09 L185.08,270.59 L185.41,269.11 L185.76,267.63 L186.14,266.16 L186.53,264.69 L186.94,263.23 L187.37,261.78 L187.82,260.34 L188.29,258.91 L188.79,257.49 L189.30,256.07 L189.84,254.66 L190.41,253.27 L190.99,251.88 L191.60,250.51 L192.24,249.14 L192.90,247.79 L193.59,246.45 L194.30,245.11 L195.04,243.80 L195.80,242.49 L196.59,241.19 L197.40,239.91 L198.24,238.64 L199.10,237.38 L199.98,236.14 L200.88,234.91 L201.80,233.69 L202.75,232.49 L203.71,231.30 L204.70,230.12 L205.70,228.96 L206.72,227.81 L207.76,226.68 L208.81,225.56 L209.88,224.46 L210.97,223.37 L212.07,222.30 L213.19,221.24 L214.32,220.20 L215.46,219.17 L216.62,218.16 L217.79,217.16 L218.97,216.19 L220.16,215.22 L221.37,214.28 L222.58,213.35 L223.81,212.43 L225.04,211.53 L226.29,210.65 L227.55,209.79 L228.81,208.94 L230.09,208.11 L231.37,207.30 L232.67,206.50 L233.98,205.73 L235.30,204.98 L236.62,204.25 L237.96,203.53 L239.31,202.84 L240.66,202.16 L242.03,201.50 L243.40,200.85 L244.78,200.22 L246.16,199.61 L247.56,199.01 L248.96,198.42 L250.37,197.85 L251.78,197.29 L253.20,196.75 L254.63,196.21 L256.06,195.69 L257.50,195.18 L258.94,194.67 L260.38,194.18 L261.83,193.70 L263.29,193.23 L264.75,192.76 L266.21,192.31 L267.67,191.86 L269.14,191.43 L270.61,191.00 L272.08,190.58 L273.56,190.17 L275.04,189.77 L276.52,189.38 L278.00,188.99 L279.49,188.61 L280.97,188.24 L282.46,187.88 L283.95,187.52 L285.44,187.17 L286.93,186.83 L288.42,186.50 L289.92,186.17 L291.41,185.85 L292.91,185.53 L294.40,185.23 L295.90,184.92 L297.40,184.63 L298.90,184.34 L300.40,184.06 L301.90,183.78 L303.40,183.51 L304.90,183.24 L306.41,182.98 L307.91,182.73 L309.42,182.48 L310.92,182.23 L312.43,182.00 L313.94,181.76 L315.44,181.54 L316.95,181.31 L318.46,181.09 L319.97,180.88 L321.48,180.67 L322.99,180.47 L324.50,180.27 L326.02,180.07 L327.53,179.88 L329.04,179.70 L330.56,179.51 L332.07,179.34 L333.59,179.16 L335.10,178.99 L336.62,178.82 L338.14,178.66 L339.65,178.50 L341.17,178.34 L342.69,178.19 L344.21,178.04 L345.72,177.89 L347.24,177.75 L348.76,177.60 L350.28,177.47 L351.80,177.33 L353.32,177.20 L354.84,177.07 L356.36,176.94 L357.89,176.81 L359.41,176.69 L360.93,176.56 L362.45,176.44 L363.97,176.33 L365.50,176.21 L367.02,176.09 L368.54,175.98 L370.06,175.87 L371.59,175.76 L373.11,175.65 L374.63,175.54 L376.16,175.44 L377.68,175.33 L379.20,175.23 L380.73,175.13 L382.25,175.03 L383.77,174.93 L385.30,174.83 L386.82,174.73 L388.35,174.63 L389.87,174.54 L391.40,174.44 L392.92,174.35 L394.44,174.26 L395.97,174.17 L397.49,174.08 L399.02,173.99 L400.54,173.91 L402.07,173.82 L403.59,173.74 L405.12,173.65 L406.64,173.57 L408.17,173.49 L409.69,173.41 L411.22,173.33 L412.75,173.25 L414.27,173.17 L415.80,173.09 L417.32,173.02 L418.85,172.94 L420.38,172.87 L421.90,172.79 L423.43,172.72 L424.95,172.65 L426.48,172.58 L428.01,172.51 L429.53,172.44 L431.06,172.37 L432.58,172.30 L434.11,172.23 L435.64,172.17 L437.16,172.10 L438.69,172.03 L440.22,171.97 L441.74,171.91 L443.27,171.84 L444.80,171.78 L446.32,171.72 L447.85,171.66 L449.38,171.60 L450.90,171.54 L452.43,171.48 L453.96,171.42 L455.48,171.36 L457.01,171.30 L458.54,171.24 L460.06,171.18 L461.59,171.13 L463.12,171.07 L464.65,171.02 L466.17,170.96 L467.70,170.90 L469.23,170.85 L470.75,170.80 L472.28,170.74 L473.81,170.69 L475.33,170.63 L476.86,170.58 L478.39,170.53 L479.91,170.47 L481.44,170.42 L482.97,170.37 L484.49,170.32 L486.02,170.27 L487.55,170.21 L489.07,170.16 L490.60,170.11 L492.13,170.06 L493.65,170.01 L495.18,169.96 L496.71,169.91 L498.23,169.85 L499.76,169.80 L501.29,169.75 L502.81,169.70 L504.34,169.65 L505.86,169.60 L507.39,169.55 L508.92,169.50 L510.44,169.45 L511.97,169.40 L513.49,169.35 L515.02,169.29 L516.55,169.24 L518.07,169.19 L519.60,169.14 L521.12,169.09 L522.65,169.03 L524.17,168.98 L525.70,168.93 L527.23,168.88 L528.75,168.82 L530.28,168.77 L531.80,168.72 L533.33,168.66 L534.85,168.61 L536.38,168.55 L537.90,168.50" fill="none" stroke="#000000" stroke-width="2.2" stroke-linejoin="round" stroke-linecap="butt"/>
<path d="M144.95,43.00 L145.31,44.48 L145.66,45.96 L146.02,47.44 L146.38,48.93 L146.74,50.41 L147.10,51.90 L147.47,53.39 L147.83,54.88 L148.20,56.37 L148.57,57.86 L148.95,59.36 L149.32,60.85 L149.71,62.34 L150.09,63.84 L150.49,65.33 L150.88,66.82 L151.28,68.31 L151.69,69.80 L152.11,71.28 L152.53,72.77 L152.96,74.25 L153.39,75.73 L153.84,77.21 L154.29,78.69 L154.75,80.16 L155.22,81.63 L155.70,83.10 L156.19,84.56 L156.68,86.02 L157.19,87.47 L157.71,88.92 L158.24,90.36 L158.79,91.80 L159.34,93.24 L159.91,94.67 L160.49,96.09 L161.08,97.51 L161.69,98.92 L162.31,100.32 L162.94,101.72 L163.59,103.11 L164.25,104.50 L164.93,105.87 L165.63,107.24 L166.34,108.60 L167.07,109.96 L167.81,111.30 L168.57,112.64 L169.35,113.96 L170.15,115.28 L170.96,116.59 L171.80,117.88 L172.65,119.17 L173.52,120.44 L174.41,121.71 L175.32,122.95 L176.25,124.18 L177.20,125.40 L178.17,126.60 L179.16,127.78 L180.17,128.94 L181.20,130.08 L182.26,131.20 L183.33,132.30 L184.43,133.37 L185.54,134.42 L186.68,135.45 L187.85,136.45 L189.03,137.43 L190.24,138.38 L191.46,139.30 L192.71,140.20 L193.97,141.07 L195.26,141.92 L196.56,142.75 L197.87,143.54 L199.20,144.32 L200.54,145.07 L201.90,145.79 L203.27,146.50 L204.65,147.18 L206.03,147.83 L207.43,148.47 L208.84,149.08 L210.25,149.67 L211.67,150.24 L213.09,150.79 L214.52,151.31 L215.96,151.82 L217.41,152.31 L218.86,152.78 L220.31,153.23 L221.77,153.66 L223.24,154.08 L224.71,154.48 L226.19,154.86 L227.67,155.22 L229.16,155.58 L230.65,155.91 L232.14,156.23 L233.64,156.54 L235.15,156.83 L236.65,157.12 L238.16,157.38 L239.68,157.64 L241.19,157.89 L242.71,158.12 L244.23,158.35 L245.76,158.56 L247.29,158.77 L248.82,158.96 L250.35,159.15 L251.88,159.33 L253.42,159.51 L254.95,159.67 L256.49,159.83 L258.03,159.98 L259.57,160.13 L261.11,160.28 L262.65,160.42 L264.19,160.55 L265.73,160.69 L267.27,160.81 L268.82,160.94 L270.36,161.07 L271.90,161.19 L273.44,161.31 L274.98,161.43 L276.52,161.54 L278.06,161.66 L279.60,161.77 L281.14,161.87 L282.68,161.98 L284.22,162.09 L285.76,162.19 L287.30,162.29 L288.84,162.38 L290.38,162.48 L291.92,162.57 L293.45,162.66 L294.99,162.75 L296.53,162.84 L298.07,162.93 L299.61,163.01 L301.15,163.09 L302.68,163.17 L304.22,163.25 L305.76,163.32 L307.30,163.40 L308.84,163.47 L310.37,163.54 L311.91,163.61 L313.45,163.67 L314.99,163.74 L316.52,163.80 L318.06,163.86 L319.60,163.92 L321.13,163.98 L322.67,164.03 L324.21,164.09 L325.74,164.14 L327.28,164.19 L328.82,164.24 L330.35,164.29 L331.89,164.34 L333.43,164.38 L334.96,164.43 L336.50,164.47 L338.03,164.51 L339.57,164.55 L341.11,164.58 L342.64,164.62 L344.18,164.66 L345.71,164.69 L347.25,164.72 L348.78,164.75 L350.32,164.78 L351.85,164.81 L353.39,164.84 L354.93,164.86 L356.46,164.89 L358.00,164.91 L359.53,164.94 L361.07,164.96 L362.60,164.98 L364.14,165.00 L365.67,165.01 L367.21,165.03 L368.74,165.05 L370.28,165.06 L371.81,165.08 L373.35,165.09 L374.88,165.10 L376.42,165.11 L377.95,165.12 L379.49,165.13 L381.02,165.14 L382.56,165.15 L384.09,165.16 L385.63,165.16 L387.16,165.17 L388.70,165.17 L390.23,165.18 L391.76,165.18 L393.30,165.18 L394.83,165.18 L396.37,165.19 L397.90,165.19 L399.44,165.19 L400.97,165.19 L402.51,165.19 L404.04,165.18 L405.58,165.18 L407.11,165.18 L408.65,165.18 L410.18,165.17 L411.72,165.17 L413.25,165.17 L414.79,165.16 L416.32,165.16 L417.86,165.15 L419.40,165.15 L420.93,165.14 L422.47,165.13 L424.00,165.13 L425.54,165.12 L427.07,165.11 L428.61,165.11 L430.14,165.10 L431.68,165.09 L433.21,165.09 L434.75,165.08 L436.29,165.07 L437.82,165.06 L439.36,165.06 L440.89,165.05 L442.43,165.04 L443.97,165.03 L445.50,165.03 L447.04,165.02 L448.58,165.01 L450.11,165.00 L451.65,165.00 L453.19,164.99 L454.72,164.98 L456.26,164.98 L457.80,164.97 L459.33,164.96 L460.87,164.96 L462.41,164.95 L463.94,164.95 L465.48,164.94 L467.02,164.94 L468.56,164.94 L470.10,164.93 L471.63,164.93 L473.17,164.93 L474.71,164.92 L476.25,164.92 L477.79,164.92 L479.32,164.92 L480.86,164.92 L482.40,164.92 L483.94,164.92 L485.48,164.92 L487.02,164.92 L488.56,164.93 L490.10,164.93 L491.64,164.94 L493.18,164.94 L494.72,164.95 L496.26,164.95 L497.80,164.96 L499.34,164.97 L500.88,164.98 L502.42,164.99 L503.96,165.00 L505.50,165.01 L507.04,165.02 L508.58,165.04 L510.12,165.05 L511.67,165.07 L513.21,165.08 L514.75,165.10 L516.29,165.12 L517.83,165.14 L519.38,165.16 L520.92,165.18 L522.46,165.20 L524.00,165.23 L525.55,165.25 L527.09,165.28 L528.63,165.31 L530.18,165.34 L531.72,165.37 L533.27,165.40 L534.81,165.43 L536.36,165.47 L537.90,165.50" fill="none" stroke="#000000" stroke-width="2.2" stroke-linejoin="round" stroke-linecap="butt"/>
<rect x="180.02" y="331.35" width="1.6" height="1.6" fill="#0000ff"/>
<rect x="179.64" y="324.95" width="1.6" height="1.6" fill="#0000ff"/>
<rect x="179.44" y="319.16" width="1.6" height="1.6" fill="#0000ff"/>
<rect x="179.38" y="313.36" width="1.6" height="1.6" fill="#0000ff"/>
<rect x="179.47" y="307.54" width="1.6" height="1.6" fill="#0000ff"/>
<rect x="179.74" y="301.08" width="1.6" height="1.6" fill="#0000ff"/>
<rect x="180.15" y="295.28" width="1.6" height="1.6" fill="#0000ff"/>
<rect x="180.73" y="289.49" width="1.6" height="1.6" fill="#0000ff"/>
<rect x="181.47" y="283.73" width="1.6" height="1.6" fill="#0000ff"/>
<line x1="181.1" y1="334.7" x2="181.1" y2="350" stroke="#0000ff" stroke-width="2" stroke-dasharray="0 1.5 1.8 4.2"/>
<line x1="181.1" y1="350.5" x2="181.1" y2="356" stroke="#000000" stroke-width="1.8"/>
<rect x="99.80" y="9.60" width="2.2" height="2.0" fill="#000000"/>
<rect x="99.80" y="15.90" width="2.2" height="2.0" fill="#000000"/>
<rect x="99.80" y="22.00" width="2.2" height="2.0" fill="#000000"/>
<rect x="99.80" y="28.40" width="2.2" height="2.0" fill="#000000"/>
<rect x="99.80" y="34.40" width="2.2" height="2.0" fill="#000000"/>
<rect x="132.30" y="8.30" width="2.2" height="2.0" fill="#0000ff"/>
<rect x="132.30" y="14.30" width="2.2" height="2.0" fill="#0000ff"/>
<rect x="132.30" y="20.10" width="2.2" height="2.0" fill="#0000ff"/>
<rect x="132.30" y="26.30" width="2.2" height="2.0" fill="#0000ff"/>
<rect x="132.30" y="32.30" width="2.2" height="2.0" fill="#0000ff"/>
<rect x="132.30" y="38.30" width="2.2" height="2.0" fill="#0000ff"/>
<rect x="180.10" y="8.60" width="2.2" height="2.0" fill="#ff0000"/>
<rect x="180.10" y="14.60" width="2.2" height="2.0" fill="#ff0000"/>
<rect x="180.10" y="20.70" width="2.2" height="2.0" fill="#ff0000"/>
<rect x="180.10" y="26.70" width="2.2" height="2.0" fill="#ff0000"/>
<rect x="180.10" y="32.60" width="2.2" height="2.0" fill="#ff0000"/>
<rect x="180.10" y="38.60" width="2.2" height="2.0" fill="#ff0000"/>
<rect x="92.0" y="5.0" width="445.90" height="351.20" fill="none" stroke="#000" stroke-width="2.0"/>
<line x1="181.10" y1="356.2" x2="181.10" y2="350.7" stroke="#000" stroke-width="2.0"/>
<line x1="181.10" y1="5.0" x2="181.10" y2="10.5" stroke="#000" stroke-width="2.0"/>
<line x1="270.20" y1="356.2" x2="270.20" y2="350.7" stroke="#000" stroke-width="2.0"/>
<line x1="270.20" y1="5.0" x2="270.20" y2="10.5" stroke="#000" stroke-width="2.0"/>
<line x1="359.30" y1="356.2" x2="359.30" y2="350.7" stroke="#000" stroke-width="2.0"/>
<line x1="359.30" y1="5.0" x2="359.30" y2="10.5" stroke="#000" stroke-width="2.0"/>
<line x1="448.40" y1="356.2" x2="448.40" y2="350.7" stroke="#000" stroke-width="2.0"/>
<line x1="448.40" y1="5.0" x2="448.40" y2="10.5" stroke="#000" stroke-width="2.0"/>
<line x1="92.0" y1="297.70" x2="97.5" y2="297.70" stroke="#000" stroke-width="2.0"/>
<line x1="537.9" y1="297.70" x2="532.4" y2="297.70" stroke="#000" stroke-width="2.0"/>
<line x1="92.0" y1="180.70" x2="97.5" y2="180.70" stroke="#000" stroke-width="2.0"/>
<line x1="537.9" y1="180.70" x2="532.4" y2="180.70" stroke="#000" stroke-width="2.0"/>
<line x1="92.0" y1="63.70" x2="97.5" y2="63.70" stroke="#000" stroke-width="2.0"/>
<line x1="537.9" y1="63.70" x2="532.4" y2="63.70" stroke="#000" stroke-width="2.0"/>
<line x1="672.0" y1="30.30" x2="1119.3" y2="30.30" stroke="#000" stroke-width="2.0" stroke-dasharray="14.75 9.27"/>
<line x1="672.0" y1="278.76" x2="1119.3" y2="278.76" stroke="#000" stroke-width="2.0" stroke-dasharray="14.75 9.27"/>
<line x1="672.0" y1="350.40" x2="1119.3" y2="350.40" stroke="#000" stroke-width="2.0" stroke-dasharray="14.75 9.27"/>
<path d="M850.80,278.60 L850.28,277.85 L849.75,277.09 L849.23,276.33 L848.72,275.57 L848.20,274.81 L847.68,274.06 L847.16,273.30 L846.64,272.54 L846.13,271.78 L845.61,271.02 L845.10,270.26 L844.59,269.50 L844.07,268.74 L843.56,267.97 L843.05,267.21 L842.54,266.45 L842.04,265.69 L841.53,264.92 L841.02,264.16 L840.52,263.39 L840.02,262.63 L839.51,261.86 L839.01,261.10 L838.51,260.33 L838.01,259.56 L837.52,258.79 L837.02,258.02 L836.53,257.25 L836.03,256.48 L835.54,255.71 L835.05,254.94 L834.56,254.17 L834.08,253.39 L833.59,252.62 L833.11,251.84 L832.62,251.07 L832.14,250.29 L831.67,249.51 L831.19,248.74 L830.71,247.96 L830.24,247.18 L829.77,246.40 L829.30,245.61 L828.83,244.83 L828.36,244.05 L827.90,243.26 L827.43,242.48 L826.97,241.69 L826.52,240.90 L826.06,240.11 L825.60,239.32 L825.15,238.53 L824.70,237.74 L824.25,236.94 L823.81,236.15 L823.36,235.35 L822.92,234.56 L822.48,233.76 L822.05,232.96 L821.61,232.16 L821.18,231.36 L820.75,230.56 L820.32,229.75 L819.90,228.95 L819.47,228.14 L819.05,227.33 L818.64,226.52 L818.22,225.71 L817.81,224.90 L817.40,224.09 L816.99,223.27 L816.59,222.46 L816.19,221.64 L815.79,220.82 L815.39,220.00 L815.00,219.18 L814.61,218.35 L814.22,217.53 L813.83,216.70 L813.45,215.87 L813.07,215.04 L812.70,214.21 L812.32,213.38 L811.95,212.55 L811.59,211.71 L811.22,210.87 L810.86,210.03 L810.51,209.19 L810.15,208.35 L809.80,207.51 L809.45,206.66 L809.11,205.81 L808.77,204.96 L808.43,204.11 L808.09,203.26 L807.76,202.40 L807.43,201.55 L807.11,200.69 L806.79,199.83 L806.47,198.97 L806.16,198.10 L805.85,197.24 L805.54,196.37 L805.24,195.50 L804.94,194.63 L804.64,193.76 L804.35,192.88 L804.06,192.00 L803.77,191.12 L803.49,190.24 L803.22,189.36 L802.94,188.47 L802.67,187.58 L802.41,186.69 L802.15,185.80 L801.89,184.91 L801.64,184.02 L801.39,183.12 L801.15,182.22 L800.91,181.32 L800.68,180.42 L800.45,179.52 L800.22,178.61 L800.01,177.71 L799.79,176.80 L799.59,175.90 L799.39,174.99 L799.19,174.08 L799.00,173.17 L798.82,172.26 L798.65,171.35 L798.48,170.44 L798.31,169.53 L798.16,168.62 L798.01,167.70 L797.86,166.79 L797.73,165.88 L797.60,164.96 L797.48,164.05 L797.36,163.14 L797.26,162.23 L797.16,161.31 L797.07,160.40 L796.99,159.49 L796.91,158.58 L796.84,157.67 L796.79,156.76 L796.74,155.85 L796.70,154.94 L796.66,154.03 L796.64,153.13 L796.63,152.22 L796.62,151.32 L796.63,150.41 L796.64,149.51 L796.66,148.61 L796.69,147.71 L796.74,146.81 L796.79,145.92 L796.85,145.02 L796.93,144.13 L797.01,143.24 L797.10,142.35 L797.21,141.46 L797.32,140.58 L797.45,139.69 L797.58,138.81 L797.73,137.94 L797.89,137.06 L798.06,136.19 L798.24,135.31 L798.44,134.45 L798.64,133.58 L798.86,132.72 L799.09,131.85 L799.33,131.00 L799.58,130.14 L799.84,129.29 L800.11,128.43 L800.38,127.59 L800.67,126.74 L800.97,125.89 L801.28,125.05 L801.60,124.21 L801.92,123.37 L802.25,122.53 L802.60,121.70 L802.94,120.87 L803.30,120.03 L803.66,119.20 L804.03,118.38 L804.41,117.55 L804.79,116.72 L805.18,115.90 L805.57,115.08 L805.97,114.26 L806.38,113.44 L806.79,112.62 L807.20,111.80 L807.62,110.98 L808.04,110.17 L808.47,109.35 L808.90,108.54 L809.33,107.73 L809.77,106.91 L810.21,106.10 L810.65,105.29 L811.09,104.48 L811.54,103.67 L811.99,102.86 L812.43,102.05 L812.88,101.24 L813.33,100.44 L813.78,99.63 L814.24,98.82 L814.69,98.01 L815.14,97.21 L815.59,96.40 L816.03,95.59 L816.48,94.78 L816.93,93.98 L817.37,93.17 L817.82,92.36 L818.26,91.55 L818.70,90.74 L819.13,89.93 L819.57,89.12 L820.00,88.32 L820.43,87.51 L820.86,86.70 L821.29,85.89 L821.72,85.08 L822.15,84.27 L822.57,83.45 L823.00,82.64 L823.42,81.83 L823.84,81.02 L824.26,80.21 L824.68,79.40 L825.10,78.59 L825.52,77.78 L825.93,76.97 L826.35,76.16 L826.77,75.34 L827.18,74.53 L827.59,73.72 L828.01,72.91 L828.42,72.10 L828.83,71.29 L829.25,70.48 L829.66,69.66 L830.07,68.85 L830.48,68.04 L830.90,67.23 L831.31,66.42 L831.72,65.61 L832.13,64.80 L832.55,63.99 L832.96,63.18 L833.37,62.37 L833.79,61.56 L834.20,60.75 L834.61,59.94 L835.03,59.13 L835.45,58.32 L835.86,57.51 L836.28,56.70 L836.70,55.89 L837.12,55.08 L837.54,54.27 L837.96,53.47 L838.38,52.66 L838.80,51.85 L839.23,51.04 L839.65,50.24 L840.08,49.43 L840.51,48.62 L840.94,47.82 L841.37,47.01 L841.80,46.21 L842.23,45.40 L842.67,44.60 L843.11,43.79 L843.55,42.99 L843.99,42.19 L844.43,41.39 L844.88,40.58 L845.32,39.78 L845.77,38.98 L846.23,38.18 L846.68,37.38 L847.14,36.58 L847.60,35.78 L848.06,34.98 L848.52,34.19 L848.99,33.39 L849.45,32.59 L849.93,31.80 L850.40,31.00" fill="none" stroke="#ff0000" stroke-width="2.0" stroke-linejoin="round" stroke-linecap="butt"/>
<path d="M850.80,278.60 L850.23,277.78 L849.66,276.96 L849.10,276.14 L848.53,275.31 L847.97,274.49 L847.41,273.67 L846.84,272.84 L846.28,272.02 L845.72,271.19 L845.16,270.37 L844.61,269.54 L844.05,268.71 L843.49,267.89 L842.94,267.06 L842.39,266.23 L841.83,265.40 L841.28,264.57 L840.74,263.74 L840.19,262.91 L839.64,262.08 L839.10,261.25 L838.55,260.42 L838.01,259.59 L837.47,258.75 L836.94,257.92 L836.40,257.08 L835.87,256.24 L835.33,255.41 L834.80,254.57 L834.27,253.73 L833.75,252.89 L833.22,252.05 L832.70,251.21 L832.18,250.36 L831.66,249.52 L831.14,248.67 L830.63,247.83 L830.12,246.98 L829.61,246.13 L829.10,245.28 L828.60,244.43 L828.09,243.58 L827.59,242.72 L827.10,241.87 L826.60,241.01 L826.11,240.15 L825.62,239.29 L825.13,238.43 L824.65,237.57 L824.16,236.71 L823.69,235.85 L823.21,234.98 L822.74,234.11 L822.27,233.24 L821.80,232.37 L821.33,231.50 L820.87,230.63 L820.41,229.75 L819.96,228.88 L819.51,228.00 L819.06,227.12 L818.61,226.23 L818.17,225.35 L817.73,224.47 L817.29,223.58 L816.86,222.69 L816.43,221.80 L816.00,220.91 L815.58,220.01 L815.16,219.11 L814.75,218.22 L814.34,217.32 L813.93,216.41 L813.53,215.51 L813.12,214.60 L812.73,213.69 L812.34,212.78 L811.95,211.87 L811.56,210.96 L811.18,210.04 L810.80,209.12 L810.43,208.20 L810.06,207.28 L809.70,206.35 L809.34,205.42 L808.98,204.49 L808.63,203.56 L808.28,202.63 L807.94,201.69 L807.60,200.75 L807.26,199.81 L806.93,198.86 L806.61,197.92 L806.29,196.97 L805.97,196.01 L805.66,195.06 L805.35,194.10 L805.05,193.14 L804.75,192.18 L804.46,191.22 L804.17,190.25 L803.89,189.28 L803.61,188.30 L803.33,187.33 L803.06,186.35 L802.80,185.37 L802.55,184.39 L802.30,183.40 L802.05,182.42 L801.81,181.43 L801.58,180.44 L801.36,179.45 L801.14,178.46 L800.93,177.47 L800.73,176.47 L800.54,175.48 L800.35,174.48 L800.18,173.49 L800.01,172.49 L799.85,171.49 L799.70,170.50 L799.56,169.50 L799.43,168.51 L799.32,167.51 L799.21,166.52 L799.11,165.52 L799.02,164.53 L798.94,163.54 L798.88,162.55 L798.82,161.56 L798.78,160.57 L798.75,159.58 L798.73,158.60 L798.73,157.62 L798.73,156.64 L798.75,155.66 L798.79,154.69 L798.84,153.71 L798.90,152.75 L798.97,151.78 L799.06,150.82 L799.16,149.86 L799.28,148.90 L799.42,147.95 L799.57,147.00 L799.73,146.05 L799.91,145.11 L800.11,144.17 L800.32,143.24 L800.55,142.31 L800.79,141.39 L801.05,140.47 L801.33,139.55 L801.63,138.65 L801.95,137.74 L802.28,136.84 L802.63,135.95 L803.00,135.06 L803.39,134.18 L803.79,133.31 L804.21,132.43 L804.64,131.57 L805.09,130.71 L805.56,129.85 L806.04,129.00 L806.53,128.15 L807.04,127.31 L807.55,126.48 L808.08,125.64 L808.62,124.81 L809.17,123.99 L809.73,123.17 L810.30,122.35 L810.88,121.54 L811.46,120.73 L812.05,119.92 L812.65,119.12 L813.26,118.32 L813.87,117.52 L814.48,116.73 L815.10,115.94 L815.73,115.15 L816.36,114.37 L816.99,113.58 L817.62,112.80 L818.26,112.03 L818.91,111.25 L819.55,110.48 L820.20,109.71 L820.86,108.94 L821.51,108.18 L822.17,107.41 L822.83,106.65 L823.49,105.89 L824.16,105.13 L824.82,104.38 L825.49,103.62 L826.16,102.87 L826.83,102.12 L827.50,101.37 L828.18,100.62 L828.85,99.87 L829.52,99.13 L830.20,98.38 L830.87,97.64 L831.55,96.90 L832.22,96.15 L832.89,95.41 L833.57,94.67 L834.24,93.93 L834.92,93.19 L835.59,92.46 L836.26,91.72 L836.94,90.98 L837.61,90.25 L838.28,89.51 L838.96,88.78 L839.63,88.05 L840.30,87.32 L840.98,86.58 L841.65,85.85 L842.32,85.13 L843.00,84.40 L843.67,83.67 L844.35,82.94 L845.02,82.22 L845.69,81.49 L846.37,80.76 L847.04,80.04 L847.72,79.32 L848.39,78.60 L849.07,77.87 L849.75,77.15 L850.42,76.43 L851.10,75.71 L851.78,74.99 L852.46,74.28 L853.13,73.56 L853.81,72.84 L854.49,72.13 L855.17,71.41 L855.85,70.70 L856.53,69.98 L857.21,69.27 L857.90,68.56 L858.58,67.85 L859.26,67.14 L859.95,66.43 L860.63,65.72 L861.32,65.01 L862.00,64.30 L862.69,63.59 L863.38,62.88 L864.07,62.18 L864.76,61.47 L865.45,60.77 L866.14,60.06 L866.83,59.36 L867.52,58.66 L868.21,57.95 L868.91,57.25 L869.60,56.55 L870.30,55.85 L871.00,55.15 L871.70,54.45 L872.40,53.75 L873.10,53.05 L873.80,52.36 L874.50,51.66 L875.20,50.96 L875.91,50.27 L876.62,49.57 L877.32,48.88 L878.03,48.18 L878.74,47.49 L879.45,46.80 L880.16,46.10 L880.88,45.41 L881.59,44.72 L882.31,44.03 L883.03,43.34 L883.75,42.65 L884.47,41.96 L885.19,41.27 L885.91,40.58 L886.64,39.90 L887.36,39.21 L888.09,38.52 L888.82,37.84 L889.55,37.15 L890.28,36.47 L891.02,35.78 L891.75,35.10 L892.49,34.41 L893.23,33.73 L893.97,33.05 L894.71,32.36 L895.46,31.68 L896.20,31.00" fill="none" stroke="#0000ff" stroke-width="2.0" stroke-linejoin="round" stroke-linecap="butt"/>
<path d="M830.80,278.30 L830.89,277.12 L830.98,275.94 L831.06,274.76 L831.15,273.58 L831.23,272.40 L831.31,271.23 L831.39,270.05 L831.47,268.88 L831.55,267.71 L831.62,266.54 L831.70,265.37 L831.78,264.20 L831.85,263.03 L831.92,261.86 L832.00,260.69 L832.07,259.53 L832.14,258.36 L832.21,257.20 L832.28,256.04 L832.35,254.87 L832.42,253.71 L832.49,252.55 L832.55,251.39 L832.62,250.23 L832.69,249.07 L832.75,247.91 L832.82,246.75 L832.88,245.59 L832.95,244.43 L833.02,243.28 L833.08,242.12 L833.14,240.96 L833.21,239.80 L833.27,238.65 L833.34,237.49 L833.40,236.33 L833.47,235.18 L833.53,234.02 L833.60,232.86 L833.66,231.71 L833.72,230.55 L833.79,229.39 L833.85,228.23 L833.92,227.08 L833.99,225.92 L834.05,224.76 L834.12,223.60 L834.19,222.44 L834.25,221.28 L834.32,220.12 L834.39,218.96 L834.46,217.80 L834.53,216.64 L834.60,215.48 L834.67,214.32 L834.74,213.15 L834.81,211.99 L834.89,210.82 L834.96,209.66 L835.03,208.49 L835.11,207.32 L835.19,206.16 L835.26,204.99 L835.34,203.82 L835.42,202.65 L835.50,201.47 L835.58,200.30 L835.67,199.13 L835.75,197.95 L835.84,196.77 L835.92,195.60 L836.01,194.42 L836.10,193.24 L836.20,192.06 L836.29,190.88 L836.39,189.70 L836.50,188.51 L836.61,187.33 L836.72,186.16 L836.84,184.98 L836.96,183.80 L837.09,182.62 L837.23,181.45 L837.37,180.27 L837.52,179.10 L837.68,177.93 L837.84,176.77 L838.01,175.60 L838.20,174.44 L838.39,173.28 L838.59,172.13 L838.80,170.97 L839.02,169.82 L839.26,168.68 L839.50,167.54 L839.76,166.40 L840.02,165.27 L840.30,164.14 L840.60,163.02 L840.90,161.90 L841.22,160.79 L841.56,159.69 L841.91,158.59 L842.27,157.49 L842.65,156.40 L843.04,155.32 L843.46,154.25 L843.88,153.18 L844.33,152.12 L844.79,151.07 L845.27,150.02 L845.77,148.98 L846.29,147.95 L846.82,146.93 L847.38,145.92 L847.97,144.93 L848.57,143.95 L849.21,142.99 L849.87,142.05 L850.56,141.13 L851.28,140.24 L852.03,139.36 L852.81,138.52 L853.62,137.69 L854.45,136.88 L855.30,136.09 L856.17,135.32 L857.06,134.57 L857.96,133.82 L858.87,133.09 L859.79,132.37 L860.72,131.66 L861.66,130.96 L862.60,130.26 L863.54,129.58 L864.49,128.90 L865.45,128.23 L866.41,127.57 L867.38,126.91 L868.35,126.26 L869.32,125.61 L870.30,124.97 L871.28,124.33 L872.27,123.70 L873.26,123.07 L874.25,122.45 L875.24,121.82 L876.23,121.20 L877.23,120.59 L878.23,119.97 L879.23,119.36 L880.23,118.75 L881.23,118.14 L882.23,117.52 L883.23,116.91 L884.23,116.30 L885.22,115.69 L886.22,115.07 L887.22,114.46 L888.22,113.84 L889.21,113.23 L890.21,112.61 L891.20,111.99 L892.20,111.37 L893.19,110.75 L894.19,110.13 L895.18,109.51 L896.17,108.89 L897.16,108.27 L898.16,107.65 L899.15,107.03 L900.14,106.40 L901.13,105.78 L902.12,105.16 L903.11,104.53 L904.10,103.91 L905.09,103.28 L906.07,102.66 L907.06,102.03 L908.05,101.40 L909.04,100.78 L910.03,100.15 L911.01,99.52 L912.00,98.90 L912.99,98.27 L913.97,97.64 L914.96,97.01 L915.95,96.38 L916.93,95.76 L917.92,95.13 L918.90,94.50 L919.89,93.87 L920.88,93.24 L921.86,92.61 L922.85,91.98 L923.83,91.36 L924.82,90.73 L925.80,90.10 L926.79,89.47 L927.77,88.84 L928.76,88.21 L929.74,87.59 L930.73,86.96 L931.71,86.33 L932.70,85.70 L933.68,85.08 L934.67,84.45 L935.66,83.82 L936.64,83.20 L937.63,82.57 L938.61,81.95 L939.60,81.32 L940.59,80.70 L941.57,80.07 L942.56,79.45 L943.55,78.82 L944.53,78.20 L945.52,77.58 L946.51,76.96 L947.50,76.34 L948.49,75.72 L949.48,75.10 L950.47,74.48 L951.46,73.86 L952.45,73.24 L953.44,72.62 L954.43,72.01 L955.42,71.39 L956.41,70.78 L957.40,70.16 L958.39,69.55 L959.39,68.94 L960.38,68.33 L961.37,67.71 L962.37,67.10 L963.36,66.50 L964.36,65.89 L965.36,65.28 L966.35,64.68 L967.35,64.07 L968.35,63.47 L969.35,62.86 L970.35,62.26 L971.35,61.66 L972.35,61.06 L973.35,60.46 L974.35,59.87 L975.35,59.27 L976.36,58.68 L977.36,58.08 L978.37,57.49 L979.37,56.90 L980.38,56.31 L981.39,55.72 L982.39,55.13 L983.40,54.55 L984.41,53.96 L985.42,53.38 L986.44,52.80 L987.45,52.22 L988.46,51.64 L989.48,51.07 L990.49,50.49 L991.51,49.92 L992.53,49.35 L993.54,48.77 L994.56,48.21 L995.58,47.64 L996.60,47.07 L997.63,46.51 L998.65,45.95 L999.68,45.39 L1000.70,44.83 L1001.73,44.27 L1002.76,43.72 L1003.78,43.16 L1004.81,42.61 L1005.85,42.06 L1006.88,41.52 L1007.91,40.97 L1008.95,40.43 L1009.98,39.88 L1011.02,39.34 L1012.06,38.81 L1013.10,38.27 L1014.14,37.74 L1015.18,37.21 L1016.23,36.68 L1017.27,36.15 L1018.32,35.62 L1019.37,35.10 L1020.42,34.58 L1021.47,34.06 L1022.52,33.55 L1023.57,33.03 L1024.63,32.52 L1025.68,32.01 L1026.74,31.50 L1027.80,31.00" fill="none" stroke="#000000" stroke-width="2.2" stroke-linejoin="round" stroke-linecap="butt"/>
<rect x="848.18" y="275.16" width="1.6" height="1.6" fill="#ff0000"/>
<rect x="844.82" y="270.23" width="1.6" height="1.6" fill="#ff0000"/>
<rect x="841.50" y="265.29" width="1.6" height="1.6" fill="#ff0000"/>
<rect x="838.23" y="260.33" width="1.6" height="1.6" fill="#ff0000"/>
<rect x="835.01" y="255.34" width="1.6" height="1.6" fill="#ff0000"/>
<rect x="831.85" y="250.32" width="1.6" height="1.6" fill="#ff0000"/>
<rect x="828.76" y="245.26" width="1.6" height="1.6" fill="#ff0000"/>
<rect x="825.75" y="240.16" width="1.6" height="1.6" fill="#ff0000"/>
<rect x="822.83" y="235.03" width="1.6" height="1.6" fill="#ff0000"/>
<rect x="819.99" y="229.84" width="1.6" height="1.6" fill="#ff0000"/>
<rect x="817.26" y="224.60" width="1.6" height="1.6" fill="#ff0000"/>
<rect x="814.44" y="218.89" width="1.6" height="1.6" fill="#ff0000"/>
<rect x="811.95" y="213.53" width="1.6" height="1.6" fill="#ff0000"/>
<rect x="809.58" y="208.10" width="1.6" height="1.6" fill="#ff0000"/>
<rect x="807.35" y="202.59" width="1.6" height="1.6" fill="#ff0000"/>
<rect x="805.25" y="197.02" width="1.6" height="1.6" fill="#ff0000"/>
<rect x="803.31" y="191.36" width="1.6" height="1.6" fill="#ff0000"/>
<rect x="801.53" y="185.62" width="1.6" height="1.6" fill="#ff0000"/>
<rect x="833.80" y="277.70" width="1.8" height="1.8" fill="#000000"/>
<line x1="850.8" y1="278.6" x2="850.8" y2="356" stroke="#000000" stroke-width="2"/>
<rect x="850.00" y="283.10" width="1.6" height="1.8" fill="#ff0000"/>
<rect x="850.00" y="289.10" width="1.6" height="1.8" fill="#ff0000"/>
<rect x="850.00" y="295.10" width="1.6" height="1.8" fill="#ff0000"/>
<rect x="850.00" y="301.10" width="1.6" height="1.8" fill="#ff0000"/>
<rect x="850.00" y="307.10" width="1.6" height="1.8" fill="#ff0000"/>
<rect x="850.00" y="313.10" width="1.6" height="1.8" fill="#ff0000"/>
<rect x="850.00" y="319.10" width="1.6" height="1.8" fill="#ff0000"/>
<rect x="850.00" y="325.10" width="1.6" height="1.8" fill="#ff0000"/>
<rect x="850.00" y="331.10" width="1.6" height="1.8" fill="#ff0000"/>
<rect x="850.00" y="337.10" width="1.6" height="1.8" fill="#ff0000"/>
<rect x="850.00" y="343.10" width="1.6" height="1.8" fill="#ff0000"/>
<rect x="850.00" y="349.10" width="1.6" height="1.8" fill="#ff0000"/>
<rect x="849.90" y="7.60" width="2.2" height="2.0" fill="#ff0000"/>
<rect x="849.90" y="13.70" width="2.2" height="2.0" fill="#ff0000"/>
<rect x="849.90" y="19.70" width="2.2" height="2.0" fill="#ff0000"/>
<rect x="849.90" y="25.60" width="2.2" height="2.0" fill="#ff0000"/>
<rect x="896.30" y="7.60" width="2.2" height="2.0" fill="#0000ff"/>
<rect x="896.30" y="13.70" width="2.2" height="2.0" fill="#0000ff"/>
<rect x="896.30" y="19.70" width="2.2" height="2.0" fill="#0000ff"/>
<rect x="896.30" y="25.60" width="2.2" height="2.0" fill="#0000ff"/>
<rect x="1028.70" y="7.70" width="1.6" height="1.8" fill="#000000"/>
<rect x="1028.70" y="13.80" width="1.6" height="1.8" fill="#000000"/>
<rect x="1028.70" y="19.80" width="1.6" height="1.8" fill="#000000"/>
<rect x="1028.70" y="25.70" width="1.6" height="1.8" fill="#000000"/>
<rect x="672.0" y="3.6" width="447.30" height="352.50" fill="none" stroke="#000" stroke-width="2.0"/>
<line x1="761.40" y1="356.1" x2="761.40" y2="350.6" stroke="#000" stroke-width="2.0"/>
<line x1="761.40" y1="3.6" x2="761.40" y2="9.1" stroke="#000" stroke-width="2.0"/>
<line x1="850.80" y1="356.1" x2="850.80" y2="350.6" stroke="#000" stroke-width="2.0"/>
<line x1="850.80" y1="3.6" x2="850.80" y2="9.1" stroke="#000" stroke-width="2.0"/>
<line x1="940.20" y1="356.1" x2="940.20" y2="350.6" stroke="#000" stroke-width="2.0"/>
<line x1="940.20" y1="3.6" x2="940.20" y2="9.1" stroke="#000" stroke-width="2.0"/>
<line x1="1029.60" y1="356.1" x2="1029.60" y2="350.6" stroke="#000" stroke-width="2.0"/>
<line x1="1029.60" y1="3.6" x2="1029.60" y2="9.1" stroke="#000" stroke-width="2.0"/>
<line x1="672.0" y1="340.60" x2="677.5" y2="340.60" stroke="#000" stroke-width="2.0"/>
<line x1="1119.3" y1="340.60" x2="1113.8" y2="340.60" stroke="#000" stroke-width="2.0"/>
<line x1="672.0" y1="278.76" x2="677.5" y2="278.76" stroke="#000" stroke-width="2.0"/>
<line x1="1119.3" y1="278.76" x2="1113.8" y2="278.76" stroke="#000" stroke-width="2.0"/>
<line x1="672.0" y1="216.92" x2="677.5" y2="216.92" stroke="#000" stroke-width="2.0"/>
<line x1="1119.3" y1="216.92" x2="1113.8" y2="216.92" stroke="#000" stroke-width="2.0"/>
<line x1="672.0" y1="155.08" x2="677.5" y2="155.08" stroke="#000" stroke-width="2.0"/>
<line x1="1119.3" y1="155.08" x2="1113.8" y2="155.08" stroke="#000" stroke-width="2.0"/>
<line x1="672.0" y1="93.24" x2="677.5" y2="93.24" stroke="#000" stroke-width="2.0"/>
<line x1="1119.3" y1="93.24" x2="1113.8" y2="93.24" stroke="#000" stroke-width="2.0"/>
<line x1="672.0" y1="31.40" x2="677.5" y2="31.40" stroke="#000" stroke-width="2.0"/>
<line x1="1119.3" y1="31.40" x2="1113.8" y2="31.40" stroke="#000" stroke-width="2.0"/>
<line x1="378.5" y1="453.50" x2="825.4" y2="453.50" stroke="#000" stroke-width="2.0" stroke-dasharray="14.75 9.27"/>
<line x1="378.5" y1="573.00" x2="825.4" y2="573.00" stroke="#000" stroke-width="2.0" stroke-dasharray="14.75 9.27"/>
<line x1="378.5" y1="688.30" x2="825.4" y2="688.30" stroke="#000" stroke-width="2.0" stroke-dasharray="14.75 9.27"/>
<line x1="378.5" y1="735.00" x2="825.4" y2="735.00" stroke="#000" stroke-width="2.0" stroke-dasharray="14.75 9.27"/>
<line x1="378.5" y1="766.10" x2="825.4" y2="766.10" stroke="#000" stroke-width="2.0" stroke-dasharray="14.75 9.27"/>
<path d="M399.41,688.00 L399.41,687.21 L399.41,686.42 L399.42,685.63 L399.42,684.84 L399.43,684.05 L399.44,683.27 L399.44,682.48 L399.45,681.69 L399.45,680.90 L399.46,680.11 L399.47,679.32 L399.48,678.53 L399.48,677.74 L399.49,676.95 L399.50,676.16 L399.51,675.37 L399.52,674.58 L399.53,673.80 L399.54,673.01 L399.55,672.22 L399.56,671.43 L399.57,670.64 L399.58,669.85 L399.59,669.06 L399.61,668.27 L399.62,667.48 L399.63,666.69 L399.64,665.90 L399.66,665.12 L399.67,664.33 L399.68,663.54 L399.70,662.75 L399.71,661.96 L399.73,661.17 L399.74,660.38 L399.76,659.59 L399.77,658.80 L399.79,658.01 L399.81,657.23 L399.82,656.44 L399.84,655.65 L399.86,654.86 L399.88,654.07 L399.90,653.28 L399.91,652.49 L399.93,651.70 L399.95,650.91 L399.97,650.13 L399.99,649.34 L400.01,648.55 L400.04,647.76 L400.06,646.97 L400.08,646.18 L400.10,645.39 L400.12,644.60 L400.15,643.81 L400.17,643.03 L400.19,642.24 L400.22,641.45 L400.24,640.66 L400.27,639.87 L400.29,639.08 L400.32,638.29 L400.34,637.51 L400.37,636.72 L400.40,635.93 L400.43,635.14 L400.45,634.35 L400.48,633.56 L400.51,632.77 L400.54,631.99 L400.57,631.20 L400.60,630.41 L400.63,629.62 L400.66,628.83 L400.69,628.04 L400.72,627.26 L400.75,626.47 L400.78,625.68 L400.82,624.89 L400.85,624.10 L400.88,623.31 L400.92,622.53 L400.95,621.74 L400.99,620.95 L401.02,620.16 L401.06,619.37 L401.09,618.59 L401.13,617.80 L401.17,617.01 L401.20,616.22 L401.24,615.43 L401.28,614.65 L401.32,613.86 L401.36,613.07 L401.40,612.28 L401.44,611.50 L401.48,610.71 L401.52,609.92 L401.56,609.13 L401.60,608.34 L401.64,607.56 L401.68,606.77 L401.73,605.98 L401.77,605.19 L401.82,604.41 L401.86,603.62 L401.90,602.83 L401.95,602.04 L402.00,601.26 L402.04,600.47 L402.09,599.68 L402.14,598.90 L402.18,598.11 L402.23,597.32 L402.28,596.53 L402.33,595.75 L402.38,594.96 L402.43,594.17 L402.48,593.39 L402.53,592.60 L402.58,591.81 L402.63,591.03 L402.69,590.24 L402.74,589.45 L402.79,588.67 L402.85,587.88 L402.90,587.09 L402.96,586.31 L403.01,585.52 L403.07,584.73 L403.12,583.95 L403.18,583.16 L403.24,582.37 L403.30,581.59 L403.35,580.80 L403.41,580.01 L403.47,579.23 L403.53,578.44 L403.59,577.66 L403.65,576.87 L403.72,576.08 L403.78,575.30 L403.84,574.51 L403.90,573.73 L403.97,572.94 L404.03,572.16 L404.09,571.37 L404.16,570.58 L404.23,569.80 L404.29,569.01 L404.36,568.23 L404.43,567.44 L404.49,566.66 L404.56,565.87 L404.63,565.09 L404.70,564.30 L404.77,563.52 L404.84,562.73 L404.91,561.95 L404.98,561.16 L405.05,560.38 L405.13,559.59 L405.20,558.81 L405.27,558.02 L405.35,557.24 L405.42,556.45 L405.50,555.67 L405.57,554.88 L405.65,554.10 L405.73,553.31 L405.80,552.53 L405.88,551.74 L405.96,550.96 L406.04,550.18 L406.12,549.39 L406.20,548.61 L406.28,547.82 L406.36,547.04 L406.44,546.26 L406.53,545.47 L406.61,544.69 L406.69,543.90 L406.78,543.12 L406.86,542.34 L406.95,541.55 L407.03,540.77 L407.12,539.99 L407.21,539.20 L407.30,538.42 L407.38,537.64 L407.47,536.85 L407.56,536.07 L407.65,535.29 L407.74,534.50 L407.83,533.72 L407.93,532.94 L408.02,532.16 L408.11,531.37 L408.21,530.59 L408.30,529.81 L408.40,529.02 L408.49,528.24 L408.59,527.46 L408.68,526.68 L408.78,525.90 L408.88,525.11 L408.98,524.33 L409.08,523.55 L409.18,522.77 L409.28,521.99 L409.38,521.20 L409.48,520.42 L409.58,519.64 L409.68,518.86 L409.79,518.08 L409.89,517.30 L410.00,516.51 L410.10,515.73 L410.21,514.95 L410.32,514.17 L410.42,513.39 L410.53,512.61 L410.64,511.83 L410.75,511.05 L410.86,510.27 L410.97,509.49 L411.08,508.70 L411.19,507.92 L411.30,507.14 L411.42,506.36 L411.53,505.58 L411.64,504.80 L411.76,504.02 L411.88,503.24 L411.99,502.46 L412.11,501.68 L412.23,500.90 L412.34,500.12 L412.46,499.34 L412.58,498.56 L412.70,497.78 L412.82,497.00 L412.95,496.23 L413.07,495.45 L413.19,494.67 L413.31,493.89 L413.44,493.11 L413.56,492.33 L413.69,491.55 L413.82,490.77 L413.94,489.99 L414.07,489.22 L414.20,488.44 L414.33,487.66 L414.46,486.88 L414.59,486.10 L414.72,485.32 L414.85,484.55 L414.98,483.77 L415.12,482.99 L415.25,482.21 L415.38,481.43 L415.52,480.66 L415.66,479.88 L415.79,479.10 L415.93,478.32 L416.07,477.55 L416.21,476.77 L416.35,475.99 L416.49,475.22 L416.63,474.44 L416.77,473.66 L416.91,472.89 L417.05,472.11 L417.20,471.33 L417.34,470.56 L417.49,469.78 L417.63,469.00 L417.78,468.23 L417.93,467.45 L418.08,466.68 L418.22,465.90 L418.37,465.12 L418.52,464.35 L418.67,463.57 L418.83,462.80 L418.98,462.02 L419.13,461.25 L419.29,460.47 L419.44,459.70 L419.60,458.92 L419.75,458.15 L419.91,457.37 L420.07,456.60 L420.23,455.82 L420.38,455.05 L420.54,454.27 L420.70,453.50" fill="none" stroke="#ff0000" stroke-width="2.0" stroke-linejoin="round" stroke-linecap="butt"/>
<path d="M397.40,688.00 L397.48,687.18 L397.57,686.36 L397.65,685.54 L397.74,684.72 L397.82,683.90 L397.91,683.08 L398.00,682.26 L398.08,681.44 L398.17,680.62 L398.26,679.80 L398.35,678.98 L398.44,678.15 L398.53,677.33 L398.63,676.51 L398.72,675.69 L398.81,674.87 L398.91,674.05 L399.00,673.23 L399.10,672.41 L399.19,671.59 L399.29,670.76 L399.39,669.94 L399.49,669.12 L399.59,668.30 L399.69,667.48 L399.79,666.66 L399.89,665.84 L399.99,665.01 L400.10,664.19 L400.20,663.37 L400.31,662.55 L400.41,661.73 L400.52,660.91 L400.63,660.09 L400.73,659.26 L400.84,658.44 L400.95,657.62 L401.06,656.80 L401.18,655.98 L401.29,655.16 L401.40,654.33 L401.51,653.51 L401.63,652.69 L401.74,651.87 L401.86,651.05 L401.98,650.23 L402.10,649.41 L402.22,648.59 L402.34,647.77 L402.46,646.94 L402.58,646.12 L402.70,645.30 L402.82,644.48 L402.95,643.66 L403.07,642.84 L403.20,642.02 L403.32,641.20 L403.45,640.38 L403.58,639.56 L403.71,638.74 L403.84,637.92 L403.97,637.10 L404.10,636.28 L404.24,635.46 L404.37,634.64 L404.51,633.82 L404.64,633.00 L404.78,632.18 L404.92,631.36 L405.06,630.54 L405.20,629.72 L405.34,628.91 L405.48,628.09 L405.62,627.27 L405.76,626.45 L405.91,625.63 L406.05,624.81 L406.20,624.00 L406.35,623.18 L406.50,622.36 L406.64,621.54 L406.80,620.73 L406.95,619.91 L407.10,619.09 L407.25,618.28 L407.41,617.46 L407.56,616.64 L407.72,615.83 L407.88,615.01 L408.03,614.20 L408.19,613.38 L408.35,612.57 L408.52,611.75 L408.68,610.94 L408.84,610.12 L409.01,609.31 L409.17,608.49 L409.34,607.68 L409.51,606.87 L409.68,606.05 L409.85,605.24 L410.02,604.43 L410.19,603.61 L410.36,602.80 L410.54,601.99 L410.71,601.18 L410.89,600.37 L411.07,599.55 L411.24,598.74 L411.42,597.93 L411.61,597.12 L411.79,596.31 L411.97,595.50 L412.15,594.69 L412.34,593.88 L412.53,593.07 L412.71,592.26 L412.90,591.46 L413.09,590.65 L413.28,589.84 L413.48,589.03 L413.67,588.22 L413.86,587.42 L414.06,586.61 L414.26,585.80 L414.45,585.00 L414.65,584.19 L414.85,583.39 L415.06,582.58 L415.26,581.78 L415.46,580.97 L415.67,580.17 L415.87,579.37 L416.08,578.56 L416.29,577.76 L416.50,576.96 L416.71,576.16 L416.92,575.35 L417.14,574.55 L417.35,573.75 L417.57,572.95 L417.78,572.15 L418.00,571.35 L418.22,570.55 L418.44,569.75 L418.67,568.95 L418.89,568.15 L419.11,567.36 L419.34,566.56 L419.57,565.76 L419.80,564.97 L420.03,564.17 L420.26,563.37 L420.49,562.58 L420.72,561.78 L420.96,560.99 L421.20,560.19 L421.43,559.40 L421.67,558.61 L421.91,557.82 L422.15,557.02 L422.40,556.23 L422.64,555.44 L422.89,554.65 L423.13,553.86 L423.38,553.07 L423.63,552.28 L423.88,551.49 L424.13,550.70 L424.39,549.91 L424.64,549.13 L424.90,548.34 L425.16,547.55 L425.41,546.77 L425.68,545.98 L425.94,545.20 L426.20,544.41 L426.46,543.63 L426.73,542.84 L427.00,542.06 L427.27,541.28 L427.54,540.50 L427.81,539.71 L428.08,538.93 L428.36,538.15 L428.63,537.37 L428.91,536.59 L429.19,535.82 L429.47,535.04 L429.75,534.26 L430.03,533.48 L430.32,532.71 L430.60,531.93 L430.89,531.15 L431.18,530.38 L431.47,529.61 L431.76,528.83 L432.05,528.06 L432.35,527.29 L432.64,526.51 L432.94,525.74 L433.24,524.97 L433.54,524.20 L433.84,523.43 L434.14,522.66 L434.45,521.90 L434.75,521.13 L435.06,520.36 L435.37,519.59 L435.68,518.83 L436.00,518.06 L436.31,517.30 L436.62,516.54 L436.94,515.77 L437.26,515.01 L437.58,514.25 L437.90,513.49 L438.22,512.73 L438.55,511.97 L438.88,511.21 L439.20,510.45 L439.53,509.69 L439.86,508.93 L440.20,508.18 L440.53,507.42 L440.87,506.66 L441.20,505.91 L441.54,505.16 L441.88,504.40 L442.22,503.65 L442.57,502.90 L442.91,502.15 L443.26,501.40 L443.61,500.65 L443.96,499.90 L444.31,499.15 L444.66,498.40 L445.02,497.65 L445.38,496.91 L445.73,496.16 L446.09,495.42 L446.45,494.67 L446.82,493.93 L447.18,493.19 L447.55,492.45 L447.92,491.71 L448.29,490.97 L448.66,490.23 L449.03,489.49 L449.41,488.75 L449.78,488.01 L450.16,487.28 L450.54,486.54 L450.92,485.81 L451.30,485.07 L451.69,484.34 L452.08,483.61 L452.46,482.87 L452.85,482.14 L453.25,481.41 L453.64,480.68 L454.03,479.95 L454.43,479.23 L454.83,478.50 L455.23,477.77 L455.63,477.05 L456.04,476.32 L456.44,475.60 L456.85,474.88 L457.26,474.16 L457.67,473.44 L458.08,472.72 L458.50,472.00 L458.91,471.28 L459.33,470.56 L459.75,469.84 L460.17,469.13 L460.60,468.41 L461.02,467.70 L461.45,466.98 L461.88,466.27 L462.31,465.56 L462.74,464.85 L463.17,464.14 L463.61,463.43 L464.05,462.72 L464.49,462.02 L464.93,461.31 L465.37,460.60 L465.82,459.90 L466.26,459.20 L466.71,458.49 L467.16,457.79 L467.62,457.09 L468.07,456.39 L468.53,455.69 L468.98,454.99 L469.44,454.30 L469.91,453.60" fill="none" stroke="#0000ff" stroke-width="2.0" stroke-linejoin="round" stroke-linecap="butt"/>
<path d="M403.98,687.60 L404.63,686.13 L405.29,684.66 L405.97,683.21 L406.66,681.76 L407.35,680.32 L408.07,678.89 L408.79,677.46 L409.52,676.05 L410.27,674.64 L411.03,673.24 L411.80,671.85 L412.58,670.46 L413.37,669.09 L414.17,667.72 L414.98,666.36 L415.80,665.00 L416.64,663.66 L417.48,662.32 L418.33,660.98 L419.20,659.66 L420.07,658.34 L420.96,657.04 L421.85,655.73 L422.76,654.44 L423.67,653.15 L424.59,651.87 L425.53,650.60 L426.47,649.33 L427.42,648.07 L428.38,646.82 L429.35,645.58 L430.33,644.34 L431.31,643.11 L432.31,641.89 L433.31,640.67 L434.32,639.46 L435.34,638.26 L436.37,637.07 L437.41,635.88 L438.45,634.69 L439.50,633.52 L440.56,632.35 L441.63,631.19 L442.70,630.03 L443.79,628.88 L444.87,627.74 L445.97,626.61 L447.07,625.48 L448.18,624.36 L449.30,623.24 L450.42,622.13 L451.55,621.03 L452.69,619.93 L453.83,618.84 L454.98,617.75 L456.13,616.68 L457.29,615.60 L458.46,614.54 L459.63,613.48 L460.81,612.42 L461.99,611.38 L463.18,610.34 L464.37,609.30 L465.57,608.27 L466.78,607.25 L467.99,606.23 L469.20,605.22 L470.42,604.21 L471.65,603.21 L472.88,602.21 L474.12,601.23 L475.36,600.24 L476.60,599.26 L477.85,598.29 L479.11,597.32 L480.37,596.36 L481.63,595.41 L482.90,594.46 L484.17,593.51 L485.45,592.57 L486.73,591.64 L488.02,590.71 L489.31,589.78 L490.61,588.87 L491.91,587.95 L493.21,587.04 L494.52,586.14 L495.83,585.24 L497.14,584.35 L498.46,583.46 L499.78,582.58 L501.11,581.70 L502.44,580.82 L503.77,579.96 L505.11,579.09 L506.45,578.23 L507.79,577.38 L509.14,576.53 L510.49,575.68 L511.84,574.84 L513.20,574.00 L514.56,573.17 L515.92,572.35 L517.28,571.52 L518.65,570.70 L520.02,569.89 L521.39,569.08 L522.77,568.27 L524.15,567.47 L525.53,566.68 L526.91,565.88 L528.30,565.09 L529.69,564.31 L531.08,563.53 L532.47,562.75 L533.86,561.98 L535.26,561.21 L536.66,560.45 L538.06,559.69 L539.46,558.93 L540.87,558.18 L542.27,557.43 L543.68,556.68 L545.09,555.94 L546.50,555.20 L547.92,554.47 L549.33,553.74 L550.74,553.01 L552.16,552.28 L553.58,551.56 L555.00,550.85 L556.42,550.13 L557.84,549.42 L559.27,548.71 L560.69,548.01 L562.12,547.31 L563.54,546.61 L564.97,545.92 L566.40,545.23 L567.83,544.54 L569.27,543.85 L570.70,543.17 L572.13,542.49 L573.57,541.81 L575.01,541.14 L576.45,540.47 L577.88,539.80 L579.32,539.13 L580.77,538.47 L582.21,537.81 L583.65,537.15 L585.10,536.50 L586.54,535.84 L587.99,535.19 L589.44,534.54 L590.88,533.90 L592.33,533.25 L593.78,532.61 L595.23,531.97 L596.69,531.33 L598.14,530.70 L599.59,530.07 L601.05,529.44 L602.50,528.81 L603.96,528.18 L605.42,527.55 L606.87,526.93 L608.33,526.31 L609.79,525.69 L611.25,525.07 L612.71,524.45 L614.17,523.84 L615.63,523.22 L617.10,522.61 L618.56,522.00 L620.02,521.39 L621.49,520.79 L622.95,520.18 L624.42,519.57 L625.89,518.97 L627.35,518.37 L628.82,517.77 L630.29,517.17 L631.76,516.57 L633.22,515.97 L634.69,515.37 L636.16,514.78 L637.63,514.18 L639.10,513.59 L640.58,513.00 L642.05,512.40 L643.52,511.81 L644.99,511.22 L646.46,510.63 L647.94,510.04 L649.41,509.45 L650.88,508.86 L652.35,508.27 L653.83,507.69 L655.30,507.10 L656.78,506.51 L658.25,505.93 L659.73,505.34 L661.20,504.75 L662.68,504.17 L664.15,503.58 L665.63,503.00 L667.10,502.41 L668.58,501.83 L670.05,501.24 L671.53,500.65 L673.00,500.07 L674.48,499.48 L675.95,498.90 L677.43,498.31 L678.91,497.73 L680.38,497.14 L681.86,496.56 L683.33,495.97 L684.81,495.39 L686.29,494.80 L687.76,494.22 L689.24,493.64 L690.72,493.05 L692.20,492.47 L693.67,491.89 L695.15,491.31 L696.63,490.73 L698.11,490.15 L699.59,489.57 L701.07,488.99 L702.54,488.41 L704.02,487.83 L705.50,487.26 L706.98,486.68 L708.47,486.11 L709.95,485.54 L711.43,484.97 L712.91,484.39 L714.39,483.83 L715.87,483.26 L717.36,482.69 L718.84,482.12 L720.32,481.56 L721.81,481.00 L723.29,480.43 L724.78,479.87 L726.27,479.32 L727.75,478.76 L729.24,478.20 L730.73,477.65 L732.21,477.10 L733.70,476.54 L735.19,476.00 L736.68,475.45 L738.17,474.90 L739.66,474.36 L741.15,473.82 L742.65,473.28 L744.14,472.74 L745.63,472.21 L747.13,471.67 L748.62,471.14 L750.12,470.61 L751.61,470.08 L753.11,469.56 L754.61,469.04 L756.11,468.52 L757.61,468.00 L759.11,467.48 L760.61,466.97 L762.11,466.46 L763.61,465.95 L765.11,465.45 L766.62,464.95 L768.12,464.45 L769.63,463.95 L771.14,463.45 L772.64,462.96 L774.15,462.47 L775.66,461.99 L777.17,461.50 L778.68,461.02 L780.19,460.55 L781.71,460.07 L783.22,459.60 L784.74,459.14 L786.25,458.67 L787.77,458.21 L789.29,457.75 L790.81,457.30 L792.33,456.85 L793.85,456.40 L795.37,455.95 L796.89,455.51 L798.42,455.08 L799.94,454.64 L801.47,454.21 L803.00,453.79" fill="none" stroke="#000000" stroke-width="2.2" stroke-linejoin="round" stroke-linecap="butt"/>
<path d="M411.80,688.30 L411.84,688.45 L411.89,688.60 L411.93,688.76 L411.97,688.91 L412.01,689.06 L412.05,689.21 L412.09,689.37 L412.13,689.52 L412.17,689.67 L412.21,689.82 L412.25,689.98 L412.29,690.13 L412.33,690.28 L412.37,690.44 L412.41,690.59 L412.45,690.74 L412.48,690.89 L412.52,691.05 L412.56,691.20 L412.59,691.35 L412.63,691.51 L412.66,691.66 L412.70,691.81 L412.73,691.97 L412.77,692.12 L412.80,692.27 L412.84,692.43 L412.87,692.58 L412.90,692.73 L412.94,692.89 L412.97,693.04 L413.00,693.20 L413.03,693.35 L413.07,693.50 L413.10,693.66 L413.13,693.81 L413.16,693.97 L413.19,694.12 L413.22,694.27 L413.25,694.43 L413.28,694.58 L413.31,694.74 L413.34,694.89 L413.37,695.04 L413.40,695.20 L413.42,695.35 L413.45,695.51 L413.48,695.66 L413.51,695.82 L413.53,695.97 L413.56,696.13 L413.59,696.28 L413.61,696.44 L413.64,696.59 L413.66,696.74 L413.69,696.90 L413.71,697.05 L413.74,697.21 L413.76,697.36 L413.79,697.52 L413.81,697.67 L413.84,697.83 L413.86,697.98 L413.88,698.14 L413.91,698.29 L413.93,698.45 L413.95,698.60 L413.97,698.76 L414.00,698.92 L414.02,699.07 L414.04,699.23 L414.06,699.38 L414.08,699.54 L414.10,699.69 L414.12,699.85 L414.14,700.00 L414.16,700.16 L414.18,700.31 L414.20,700.47 L414.22,700.63 L414.24,700.78 L414.26,700.94 L414.28,701.09 L414.30,701.25 L414.31,701.40 L414.33,701.56 L414.35,701.72 L414.37,701.87 L414.39,702.03 L414.40,702.18 L414.42,702.34 L414.44,702.50 L414.45,702.65 L414.47,702.81 L414.48,702.96 L414.50,703.12 L414.52,703.28 L414.53,703.43 L414.55,703.59 L414.56,703.75 L414.58,703.90 L414.59,704.06 L414.61,704.21 L414.62,704.37 L414.64,704.53 L414.65,704.68 L414.66,704.84 L414.68,705.00 L414.69,705.15 L414.70,705.31 L414.72,705.47 L414.73,705.62 L414.74,705.78 L414.75,705.94 L414.77,706.09 L414.78,706.25 L414.79,706.41 L414.80,706.56 L414.82,706.72 L414.83,706.88 L414.84,707.03 L414.85,707.19 L414.86,707.35 L414.87,707.50 L414.88,707.66 L414.89,707.82 L414.90,707.97 L414.91,708.13 L414.92,708.29 L414.94,708.44 L414.95,708.60 L414.95,708.76 L414.96,708.91 L414.97,709.07 L414.98,709.23 L414.99,709.39 L415.00,709.54 L415.01,709.70 L415.02,709.86 L415.03,710.01 L415.04,710.17 L415.05,710.33 L415.05,710.49 L415.06,710.64 L415.07,710.80 L415.08,710.96 L415.09,711.11 L415.10,711.27 L415.10,711.43 L415.11,711.59 L415.12,711.74 L415.13,711.90 L415.13,712.06 L415.14,712.22 L415.15,712.37 L415.16,712.53 L415.16,712.69 L415.17,712.84 L415.18,713.00 L415.18,713.16 L415.19,713.32 L415.20,713.47 L415.20,713.63 L415.21,713.79 L415.22,713.95 L415.22,714.10 L415.23,714.26 L415.23,714.42 L415.24,714.58 L415.25,714.73 L415.25,714.89 L415.26,715.05 L415.26,715.21 L415.27,715.36 L415.28,715.52 L415.28,715.68 L415.29,715.84 L415.29,715.99 L415.30,716.15 L415.30,716.31 L415.31,716.47 L415.31,716.62 L415.32,716.78 L415.32,716.94 L415.33,717.10 L415.33,717.25 L415.34,717.41 L415.34,717.57 L415.35,717.73 L415.35,717.88 L415.36,718.04 L415.36,718.20 L415.37,718.36 L415.37,718.51 L415.38,718.67 L415.38,718.83 L415.39,718.99 L415.39,719.14 L415.40,719.30 L415.40,719.46 L415.41,719.62 L415.41,719.77 L415.42,719.93 L415.42,720.09 L415.43,720.25 L415.43,720.40 L415.44,720.56 L415.44,720.72 L415.45,720.88 L415.45,721.03 L415.46,721.19 L415.46,721.35 L415.46,721.51 L415.47,721.66 L415.47,721.82 L415.48,721.98 L415.48,722.14 L415.49,722.29 L415.49,722.45 L415.50,722.61 L415.50,722.77 L415.51,722.92 L415.51,723.08 L415.52,723.24 L415.52,723.40 L415.53,723.55 L415.53,723.71 L415.54,723.87 L415.54,724.03 L415.55,724.18 L415.55,724.34 L415.56,724.50 L415.56,724.65 L415.57,724.81 L415.57,724.97 L415.58,725.13 L415.59,725.28 L415.59,725.44 L415.60,725.60 L415.60,725.76 L415.61,725.91 L415.61,726.07 L415.62,726.23 L415.63,726.38 L415.63,726.54 L415.64,726.70 L415.64,726.86 L415.65,727.01 L415.66,727.17 L415.66,727.33 L415.67,727.48 L415.68,727.64 L415.68,727.80 L415.69,727.96 L415.69,728.11 L415.70,728.27 L415.71,728.43 L415.72,728.58 L415.72,728.74 L415.73,728.90 L415.74,729.05 L415.74,729.21 L415.75,729.37 L415.76,729.52 L415.77,729.68 L415.77,729.84 L415.78,730.00 L415.79,730.15 L415.80,730.31 L415.81,730.47 L415.82,730.62 L415.82,730.78 L415.83,730.94 L415.84,731.09 L415.85,731.25 L415.86,731.41 L415.87,731.56 L415.88,731.72 L415.89,731.87 L415.90,732.03 L415.90,732.19 L415.91,732.34 L415.92,732.50 L415.93,732.66 L415.94,732.81 L415.95,732.97 L415.96,733.13 L415.97,733.28 L415.99,733.44 L416.00,733.60 L416.01,733.75 L416.02,733.91 L416.03,734.06 L416.04,734.22 L416.05,734.38 L416.06,734.53 L416.08,734.69 L416.09,734.84 L416.10,735.00" fill="none" stroke="#000000" stroke-width="2.0" stroke-linejoin="round" stroke-linecap="butt"/>
<path d="M403.10,687.90 L421.10,735.00" fill="none" stroke="#0000ff" stroke-width="2.0" stroke-linejoin="round" stroke-linecap="butt"/>
<line x1="421.0" y1="735" x2="420.8" y2="766" stroke="#000000" stroke-width="2"/>
<rect x="419.90" y="769.50" width="1.8" height="2" fill="#000000"/>
<rect x="419.80" y="428.30" width="2.2" height="2.0" fill="#ff0000"/>
<rect x="419.80" y="434.30" width="2.2" height="2.0" fill="#ff0000"/>
<rect x="419.80" y="440.20" width="2.2" height="2.0" fill="#ff0000"/>
<rect x="419.80" y="446.10" width="2.2" height="2.0" fill="#ff0000"/>
<rect x="469.00" y="423.95" width="2.2" height="2.0" fill="#0000ff"/>
<rect x="469.00" y="430.00" width="2.2" height="2.0" fill="#0000ff"/>
<rect x="469.00" y="436.00" width="2.2" height="2.0" fill="#0000ff"/>
<rect x="469.00" y="441.90" width="2.2" height="2.0" fill="#0000ff"/>
<rect x="469.00" y="448.00" width="2.2" height="2.0" fill="#0000ff"/>
<rect x="803.30" y="432.20" width="1.6" height="1.8" fill="#000000"/>
<rect x="803.30" y="438.50" width="1.6" height="1.8" fill="#000000"/>
<rect x="803.30" y="444.50" width="1.6" height="1.8" fill="#000000"/>
<rect x="803.30" y="450.50" width="1.6" height="1.8" fill="#000000"/>
<line x1="804.1" y1="424.8" x2="804.1" y2="429" stroke="#000000" stroke-width="1.6"/>
<rect x="378.5" y="424.8" width="446.90" height="350.70" fill="none" stroke="#000" stroke-width="2.0"/>
<line x1="463.62" y1="775.5" x2="463.62" y2="770.0" stroke="#000" stroke-width="2.0"/>
<line x1="463.62" y1="424.8" x2="463.62" y2="430.3" stroke="#000" stroke-width="2.0"/>
<line x1="548.74" y1="775.5" x2="548.74" y2="770.0" stroke="#000" stroke-width="2.0"/>
<line x1="548.74" y1="424.8" x2="548.74" y2="430.3" stroke="#000" stroke-width="2.0"/>
<line x1="633.86" y1="775.5" x2="633.86" y2="770.0" stroke="#000" stroke-width="2.0"/>
<line x1="633.86" y1="424.8" x2="633.86" y2="430.3" stroke="#000" stroke-width="2.0"/>
<line x1="718.98" y1="775.5" x2="718.98" y2="770.0" stroke="#000" stroke-width="2.0"/>
<line x1="718.98" y1="424.8" x2="718.98" y2="430.3" stroke="#000" stroke-width="2.0"/>
<line x1="804.10" y1="775.5" x2="804.10" y2="770.0" stroke="#000" stroke-width="2.0"/>
<line x1="804.10" y1="424.8" x2="804.10" y2="430.3" stroke="#000" stroke-width="2.0"/>
<line x1="378.5" y1="734.50" x2="384.0" y2="734.50" stroke="#000" stroke-width="2.0"/>
<line x1="825.4" y1="734.50" x2="819.9" y2="734.50" stroke="#000" stroke-width="2.0"/>
<line x1="378.5" y1="667.00" x2="384.0" y2="667.00" stroke="#000" stroke-width="2.0"/>
<line x1="825.4" y1="667.00" x2="819.9" y2="667.00" stroke="#000" stroke-width="2.0"/>
<line x1="378.5" y1="599.50" x2="384.0" y2="599.50" stroke="#000" stroke-width="2.0"/>
<line x1="825.4" y1="599.50" x2="819.9" y2="599.50" stroke="#000" stroke-width="2.0"/>
<line x1="378.5" y1="532.00" x2="384.0" y2="532.00" stroke="#000" stroke-width="2.0"/>
<line x1="825.4" y1="532.00" x2="819.9" y2="532.00" stroke="#000" stroke-width="2.0"/>
<line x1="378.5" y1="464.50" x2="384.0" y2="464.50" stroke="#000" stroke-width="2.0"/>
<line x1="825.4" y1="464.50" x2="819.9" y2="464.50" stroke="#000" stroke-width="2.0"/>
</g>
</svg>
</body></html>
